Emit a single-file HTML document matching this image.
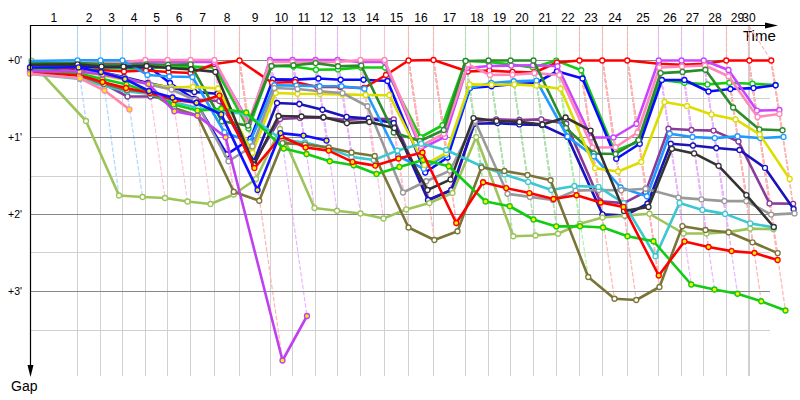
<!DOCTYPE html><html><head><meta charset="utf-8"><style>html,body{margin:0;padding:0;background:#fff;width:800px;height:400px;overflow:hidden}svg{display:block}text{font-family:"Liberation Sans",sans-serif}</style></head><body>
<svg width="800" height="400" viewBox="0 0 800 400">
<line x1="77.5" y1="26" x2="77.5" y2="376" stroke="#d0d0d0" stroke-width="1"/>
<line x1="100.5" y1="26" x2="100.5" y2="376" stroke="#d0d0d0" stroke-width="1"/>
<line x1="122.5" y1="26" x2="122.5" y2="376" stroke="#d0d0d0" stroke-width="1"/>
<line x1="145.5" y1="26" x2="145.5" y2="376" stroke="#d0d0d0" stroke-width="1"/>
<line x1="167.5" y1="26" x2="167.5" y2="376" stroke="#d0d0d0" stroke-width="1"/>
<line x1="190.5" y1="26" x2="190.5" y2="376" stroke="#d0d0d0" stroke-width="1"/>
<line x1="214.5" y1="26" x2="214.5" y2="376" stroke="#d0d0d0" stroke-width="1"/>
<line x1="239.5" y1="26" x2="239.5" y2="376" stroke="#d0d0d0" stroke-width="1"/>
<line x1="270.5" y1="26" x2="270.5" y2="376" stroke="#d0d0d0" stroke-width="1"/>
<line x1="292.5" y1="26" x2="292.5" y2="376" stroke="#d0d0d0" stroke-width="1"/>
<line x1="315.5" y1="26" x2="315.5" y2="376" stroke="#d0d0d0" stroke-width="1"/>
<line x1="337.5" y1="26" x2="337.5" y2="376" stroke="#d0d0d0" stroke-width="1"/>
<line x1="360.5" y1="26" x2="360.5" y2="376" stroke="#d0d0d0" stroke-width="1"/>
<line x1="384.5" y1="26" x2="384.5" y2="376" stroke="#d0d0d0" stroke-width="1"/>
<line x1="408.5" y1="26" x2="408.5" y2="376" stroke="#d0d0d0" stroke-width="1"/>
<line x1="433.5" y1="26" x2="433.5" y2="376" stroke="#d0d0d0" stroke-width="1"/>
<line x1="465.5" y1="26" x2="465.5" y2="376" stroke="#d0d0d0" stroke-width="1"/>
<line x1="488.5" y1="26" x2="488.5" y2="376" stroke="#d0d0d0" stroke-width="1"/>
<line x1="510.5" y1="26" x2="510.5" y2="376" stroke="#d0d0d0" stroke-width="1"/>
<line x1="533.5" y1="26" x2="533.5" y2="376" stroke="#d0d0d0" stroke-width="1"/>
<line x1="556.5" y1="26" x2="556.5" y2="376" stroke="#d0d0d0" stroke-width="1"/>
<line x1="579.5" y1="26" x2="579.5" y2="376" stroke="#d0d0d0" stroke-width="1"/>
<line x1="602.5" y1="26" x2="602.5" y2="376" stroke="#d0d0d0" stroke-width="1"/>
<line x1="627.5" y1="26" x2="627.5" y2="376" stroke="#d0d0d0" stroke-width="1"/>
<line x1="658.5" y1="26" x2="658.5" y2="376" stroke="#d0d0d0" stroke-width="1"/>
<line x1="681.5" y1="26" x2="681.5" y2="376" stroke="#d0d0d0" stroke-width="1"/>
<line x1="703.5" y1="26" x2="703.5" y2="376" stroke="#d0d0d0" stroke-width="1"/>
<line x1="726.5" y1="26" x2="726.5" y2="376" stroke="#d0d0d0" stroke-width="1"/>
<line x1="748.5" y1="26" x2="748.5" y2="376" stroke="#d0d0d0" stroke-width="1"/>
<line x1="749.5" y1="26" x2="749.5" y2="376" stroke="#d0d0d0" stroke-width="1"/>
<text x="53.8" y="22" font-size="12" text-anchor="middle" fill="#000">1</text>
<text x="89.0" y="22" font-size="12" text-anchor="middle" fill="#000">2</text>
<text x="111.5" y="22" font-size="12" text-anchor="middle" fill="#000">3</text>
<text x="134.0" y="22" font-size="12" text-anchor="middle" fill="#000">4</text>
<text x="156.5" y="22" font-size="12" text-anchor="middle" fill="#000">5</text>
<text x="179.0" y="22" font-size="12" text-anchor="middle" fill="#000">6</text>
<text x="202.5" y="22" font-size="12" text-anchor="middle" fill="#000">7</text>
<text x="227.0" y="22" font-size="12" text-anchor="middle" fill="#000">8</text>
<text x="255.0" y="22" font-size="12" text-anchor="middle" fill="#000">9</text>
<text x="281.5" y="22" font-size="12" text-anchor="middle" fill="#000">10</text>
<text x="304.0" y="22" font-size="12" text-anchor="middle" fill="#000">11</text>
<text x="326.5" y="22" font-size="12" text-anchor="middle" fill="#000">12</text>
<text x="349.0" y="22" font-size="12" text-anchor="middle" fill="#000">13</text>
<text x="372.5" y="22" font-size="12" text-anchor="middle" fill="#000">14</text>
<text x="396.5" y="22" font-size="12" text-anchor="middle" fill="#000">15</text>
<text x="421.0" y="22" font-size="12" text-anchor="middle" fill="#000">16</text>
<text x="449.5" y="22" font-size="12" text-anchor="middle" fill="#000">17</text>
<text x="477.0" y="22" font-size="12" text-anchor="middle" fill="#000">18</text>
<text x="499.5" y="22" font-size="12" text-anchor="middle" fill="#000">19</text>
<text x="522.0" y="22" font-size="12" text-anchor="middle" fill="#000">20</text>
<text x="545.0" y="22" font-size="12" text-anchor="middle" fill="#000">21</text>
<text x="568.0" y="22" font-size="12" text-anchor="middle" fill="#000">22</text>
<text x="591.0" y="22" font-size="12" text-anchor="middle" fill="#000">23</text>
<text x="615.0" y="22" font-size="12" text-anchor="middle" fill="#000">24</text>
<text x="643.0" y="22" font-size="12" text-anchor="middle" fill="#000">25</text>
<text x="670.0" y="22" font-size="12" text-anchor="middle" fill="#000">26</text>
<text x="692.5" y="22" font-size="12" text-anchor="middle" fill="#000">27</text>
<text x="715.0" y="22" font-size="12" text-anchor="middle" fill="#000">28</text>
<text x="737.5" y="22" font-size="12" text-anchor="middle" fill="#000">29</text>
<text x="749.0" y="22" font-size="12" text-anchor="middle" fill="#000">30</text>
<text x="22" y="63.5" font-size="10.5" text-anchor="end" fill="#000">+0'</text>
<text x="22" y="140.5" font-size="10.5" text-anchor="end" fill="#000">+1'</text>
<text x="22" y="217.5" font-size="10.5" text-anchor="end" fill="#000">+2'</text>
<text x="22" y="294.5" font-size="10.5" text-anchor="end" fill="#000">+3'</text>
<text x="743" y="41" font-size="15" fill="#000">Time</text>
<text x="11" y="391" font-size="14" fill="#000">Gap</text>
<line x1="77.5" y1="26" x2="77.5" y2="60" stroke="#acd8ff" stroke-width="1.2" stroke-dasharray="4,1.5"/>
<line x1="100.5" y1="26" x2="100.5" y2="60" stroke="#acd8ff" stroke-width="1.2" stroke-dasharray="4,1.5"/>
<line x1="122.5" y1="26" x2="122.5" y2="60" stroke="#acd8ff" stroke-width="1.2" stroke-dasharray="4,1.5"/>
<line x1="145.5" y1="26" x2="145.5" y2="60" stroke="#ffc0d8" stroke-width="1.2" stroke-dasharray="4,1.5"/>
<line x1="167.5" y1="26" x2="167.5" y2="60" stroke="#ffc0d8" stroke-width="1.2" stroke-dasharray="4,1.5"/>
<line x1="190.5" y1="26" x2="190.5" y2="60" stroke="#ffc0d8" stroke-width="1.2" stroke-dasharray="4,1.5"/>
<line x1="214.5" y1="26" x2="214.5" y2="60" stroke="#ffc0d8" stroke-width="1.2" stroke-dasharray="4,1.5"/>
<line x1="239.5" y1="26" x2="239.5" y2="60" stroke="#ffb4b4" stroke-width="1.2" stroke-dasharray="4,1.5"/>
<line x1="270.5" y1="26" x2="270.5" y2="60" stroke="#eab4ff" stroke-width="1.2" stroke-dasharray="4,1.5"/>
<line x1="292.5" y1="26" x2="292.5" y2="60" stroke="#eab4ff" stroke-width="1.2" stroke-dasharray="4,1.5"/>
<line x1="315.5" y1="26" x2="315.5" y2="60" stroke="#eab4ff" stroke-width="1.2" stroke-dasharray="4,1.5"/>
<line x1="337.5" y1="26" x2="337.5" y2="60" stroke="#eab4ff" stroke-width="1.2" stroke-dasharray="4,1.5"/>
<line x1="360.5" y1="26" x2="360.5" y2="60" stroke="#ffc0d8" stroke-width="1.2" stroke-dasharray="4,1.5"/>
<line x1="384.5" y1="26" x2="384.5" y2="60" stroke="#ffc0d8" stroke-width="1.2" stroke-dasharray="4,1.5"/>
<line x1="408.5" y1="26" x2="408.5" y2="60" stroke="#ffb4b4" stroke-width="1.2" stroke-dasharray="4,1.5"/>
<line x1="433.5" y1="26" x2="433.5" y2="60" stroke="#ffb4b4" stroke-width="1.2" stroke-dasharray="4,1.5"/>
<line x1="465.5" y1="26" x2="465.5" y2="60" stroke="#b2e2b2" stroke-width="1.2" stroke-dasharray="4,1.5"/>
<line x1="488.5" y1="26" x2="488.5" y2="60" stroke="#b2e2b2" stroke-width="1.2" stroke-dasharray="4,1.5"/>
<line x1="510.5" y1="26" x2="510.5" y2="60" stroke="#b2e2b2" stroke-width="1.2" stroke-dasharray="4,1.5"/>
<line x1="533.5" y1="26" x2="533.5" y2="60" stroke="#b2e2b2" stroke-width="1.2" stroke-dasharray="4,1.5"/>
<line x1="556.5" y1="26" x2="556.5" y2="60" stroke="#b0f0b0" stroke-width="1.2" stroke-dasharray="4,1.5"/>
<line x1="579.5" y1="26" x2="579.5" y2="60" stroke="#ffb4b4" stroke-width="1.2" stroke-dasharray="4,1.5"/>
<line x1="602.5" y1="26" x2="602.5" y2="60" stroke="#ffb4b4" stroke-width="1.2" stroke-dasharray="4,1.5"/>
<line x1="627.5" y1="26" x2="627.5" y2="60" stroke="#ffb4b4" stroke-width="1.2" stroke-dasharray="4,1.5"/>
<line x1="658.5" y1="26" x2="658.5" y2="60" stroke="#eab4ff" stroke-width="1.2" stroke-dasharray="4,1.5"/>
<line x1="681.5" y1="26" x2="681.5" y2="60" stroke="#eab4ff" stroke-width="1.2" stroke-dasharray="4,1.5"/>
<line x1="703.5" y1="26" x2="703.5" y2="60" stroke="#eab4ff" stroke-width="1.2" stroke-dasharray="4,1.5"/>
<line x1="726.5" y1="26" x2="726.5" y2="60" stroke="#ffb4b4" stroke-width="1.2" stroke-dasharray="4,1.5"/>
<line x1="748.5" y1="26" x2="748.5" y2="60" stroke="#ffb4b4" stroke-width="1.2" stroke-dasharray="4,1.5"/>
<line x1="749" y1="26" x2="771" y2="60" stroke="#ffb4b4" stroke-width="1.2" stroke-dasharray="4,2"/>
<line x1="77.5" y1="60" x2="86.00" y2="121.00" stroke="#acd8ff" stroke-width="1.2" stroke-dasharray="4.5,1.8"/>
<line x1="100.5" y1="60" x2="119.00" y2="195.50" stroke="#acd8ff" stroke-width="1.2" stroke-dasharray="4.5,1.8"/>
<line x1="122.5" y1="60" x2="142.50" y2="197.00" stroke="#acd8ff" stroke-width="1.2" stroke-dasharray="4.5,1.8"/>
<line x1="145.5" y1="60" x2="165.00" y2="198.00" stroke="#ffc0d8" stroke-width="1.2" stroke-dasharray="4.5,1.8"/>
<line x1="167.5" y1="60" x2="187.50" y2="201.50" stroke="#ffc0d8" stroke-width="1.2" stroke-dasharray="4.5,1.8"/>
<line x1="190.5" y1="60" x2="210.50" y2="204.00" stroke="#ffc0d8" stroke-width="1.2" stroke-dasharray="4.5,1.8"/>
<line x1="214.5" y1="60" x2="233.75" y2="194.50" stroke="#ffc0d8" stroke-width="1.2" stroke-dasharray="4.5,1.8"/>
<line x1="239.5" y1="60" x2="256.00" y2="179.00" stroke="#ffb4b4" stroke-width="1.2" stroke-dasharray="4.5,1.8"/>
<line x1="270.5" y1="60" x2="280.00" y2="129.00" stroke="#eab4ff" stroke-width="1.2" stroke-dasharray="4.5,1.8"/>
<line x1="292.5" y1="60" x2="314.50" y2="208.00" stroke="#eab4ff" stroke-width="1.2" stroke-dasharray="4.5,1.8"/>
<line x1="315.5" y1="60" x2="337.00" y2="210.75" stroke="#eab4ff" stroke-width="1.2" stroke-dasharray="4.5,1.8"/>
<line x1="337.5" y1="60" x2="360.50" y2="213.50" stroke="#eab4ff" stroke-width="1.2" stroke-dasharray="4.5,1.8"/>
<line x1="360.5" y1="60" x2="383.50" y2="218.50" stroke="#ffc0d8" stroke-width="1.2" stroke-dasharray="4.5,1.8"/>
<line x1="384.5" y1="60" x2="406.25" y2="209.40" stroke="#ffc0d8" stroke-width="1.2" stroke-dasharray="4.5,1.8"/>
<line x1="408.5" y1="60" x2="429.40" y2="203.00" stroke="#ffb4b4" stroke-width="1.2" stroke-dasharray="4.5,1.8"/>
<line x1="433.5" y1="60" x2="452.50" y2="193.00" stroke="#ffb4b4" stroke-width="1.2" stroke-dasharray="4.5,1.8"/>
<line x1="465.5" y1="60" x2="476.25" y2="137.00" stroke="#b2e2b2" stroke-width="1.2" stroke-dasharray="4.5,1.8"/>
<line x1="488.5" y1="60" x2="513.25" y2="236.25" stroke="#b2e2b2" stroke-width="1.2" stroke-dasharray="4.5,1.8"/>
<line x1="510.5" y1="60" x2="535.50" y2="235.50" stroke="#b2e2b2" stroke-width="1.2" stroke-dasharray="4.5,1.8"/>
<line x1="533.5" y1="60" x2="558.00" y2="233.75" stroke="#b2e2b2" stroke-width="1.2" stroke-dasharray="4.5,1.8"/>
<line x1="556.5" y1="60" x2="580.00" y2="223.75" stroke="#b0f0b0" stroke-width="1.2" stroke-dasharray="4.5,1.8"/>
<line x1="579.5" y1="60" x2="602.50" y2="217.50" stroke="#ffb4b4" stroke-width="1.2" stroke-dasharray="4.5,1.8"/>
<line x1="602.5" y1="60" x2="624.50" y2="215.60" stroke="#ffb4b4" stroke-width="1.2" stroke-dasharray="4.5,1.8"/>
<line x1="627.5" y1="60" x2="649.50" y2="213.75" stroke="#ffb4b4" stroke-width="1.2" stroke-dasharray="4.5,1.8"/>
<line x1="658.5" y1="60" x2="683.60" y2="233.50" stroke="#eab4ff" stroke-width="1.2" stroke-dasharray="4.5,1.8"/>
<line x1="681.5" y1="60" x2="706.40" y2="233.50" stroke="#eab4ff" stroke-width="1.2" stroke-dasharray="4.5,1.8"/>
<line x1="703.5" y1="60" x2="728.30" y2="232.10" stroke="#eab4ff" stroke-width="1.2" stroke-dasharray="4.5,1.8"/>
<line x1="726.5" y1="60" x2="750.20" y2="228.60" stroke="#ffb4b4" stroke-width="1.2" stroke-dasharray="4.5,1.8"/>
<line x1="748.5" y1="60" x2="773.50" y2="229.20" stroke="#ffb4b4" stroke-width="1.2" stroke-dasharray="4.5,1.8"/>
<line x1="77.5" y1="60" x2="80.00" y2="76.00" stroke="#acd8ff" stroke-width="1.2" stroke-dasharray="4.5,1.8"/>
<line x1="100.5" y1="60" x2="104.00" y2="84.00" stroke="#acd8ff" stroke-width="1.2" stroke-dasharray="4.5,1.8"/>
<line x1="122.5" y1="60" x2="127.00" y2="90.00" stroke="#acd8ff" stroke-width="1.2" stroke-dasharray="4.5,1.8"/>
<line x1="145.5" y1="60" x2="150.00" y2="92.00" stroke="#ffc0d8" stroke-width="1.2" stroke-dasharray="4.5,1.8"/>
<line x1="167.5" y1="60" x2="174.00" y2="108.00" stroke="#ffc0d8" stroke-width="1.2" stroke-dasharray="4.5,1.8"/>
<line x1="190.5" y1="60" x2="197.50" y2="115.60" stroke="#ffc0d8" stroke-width="1.2" stroke-dasharray="4.5,1.8"/>
<line x1="214.5" y1="60" x2="233.75" y2="191.75" stroke="#ffc0d8" stroke-width="1.2" stroke-dasharray="4.5,1.8"/>
<line x1="239.5" y1="60" x2="259.25" y2="200.75" stroke="#ffb4b4" stroke-width="1.2" stroke-dasharray="4.5,1.8"/>
<line x1="270.5" y1="60" x2="282.50" y2="143.10" stroke="#eab4ff" stroke-width="1.2" stroke-dasharray="4.5,1.8"/>
<line x1="292.5" y1="60" x2="305.00" y2="144.40" stroke="#eab4ff" stroke-width="1.2" stroke-dasharray="4.5,1.8"/>
<line x1="315.5" y1="60" x2="328.75" y2="147.50" stroke="#eab4ff" stroke-width="1.2" stroke-dasharray="4.5,1.8"/>
<line x1="337.5" y1="60" x2="351.50" y2="152.50" stroke="#eab4ff" stroke-width="1.2" stroke-dasharray="4.5,1.8"/>
<line x1="360.5" y1="60" x2="374.75" y2="156.00" stroke="#ffc0d8" stroke-width="1.2" stroke-dasharray="4.5,1.8"/>
<line x1="384.5" y1="60" x2="408.50" y2="227.50" stroke="#ffc0d8" stroke-width="1.2" stroke-dasharray="4.5,1.8"/>
<line x1="408.5" y1="60" x2="434.40" y2="240.00" stroke="#ffb4b4" stroke-width="1.2" stroke-dasharray="4.5,1.8"/>
<line x1="433.5" y1="60" x2="457.50" y2="231.25" stroke="#ffb4b4" stroke-width="1.2" stroke-dasharray="4.5,1.8"/>
<line x1="465.5" y1="60" x2="481.50" y2="167.50" stroke="#b2e2b2" stroke-width="1.2" stroke-dasharray="4.5,1.8"/>
<line x1="488.5" y1="60" x2="504.40" y2="171.00" stroke="#b2e2b2" stroke-width="1.2" stroke-dasharray="4.5,1.8"/>
<line x1="510.5" y1="60" x2="527.50" y2="175.00" stroke="#b2e2b2" stroke-width="1.2" stroke-dasharray="4.5,1.8"/>
<line x1="533.5" y1="60" x2="550.60" y2="180.25" stroke="#b2e2b2" stroke-width="1.2" stroke-dasharray="4.5,1.8"/>
<line x1="556.5" y1="60" x2="588.25" y2="277.00" stroke="#b0f0b0" stroke-width="1.2" stroke-dasharray="4.5,1.8"/>
<line x1="579.5" y1="60" x2="614.50" y2="298.75" stroke="#ffb4b4" stroke-width="1.2" stroke-dasharray="4.5,1.8"/>
<line x1="602.5" y1="60" x2="636.25" y2="300.00" stroke="#ffb4b4" stroke-width="1.2" stroke-dasharray="4.5,1.8"/>
<line x1="627.5" y1="60" x2="659.50" y2="287.00" stroke="#ffb4b4" stroke-width="1.2" stroke-dasharray="4.5,1.8"/>
<line x1="658.5" y1="60" x2="682.40" y2="226.20" stroke="#eab4ff" stroke-width="1.2" stroke-dasharray="4.5,1.8"/>
<line x1="681.5" y1="60" x2="705.50" y2="230.00" stroke="#eab4ff" stroke-width="1.2" stroke-dasharray="4.5,1.8"/>
<line x1="703.5" y1="60" x2="728.70" y2="232.30" stroke="#eab4ff" stroke-width="1.2" stroke-dasharray="4.5,1.8"/>
<line x1="726.5" y1="60" x2="752.50" y2="242.30" stroke="#ffb4b4" stroke-width="1.2" stroke-dasharray="4.5,1.8"/>
<line x1="748.5" y1="60" x2="777.70" y2="253.10" stroke="#ffb4b4" stroke-width="1.2" stroke-dasharray="4.5,1.8"/>
<line x1="77.5" y1="60" x2="78.00" y2="68.00" stroke="#acd8ff" stroke-width="1.2" stroke-dasharray="4.5,1.8"/>
<line x1="100.5" y1="60" x2="101.00" y2="72.00" stroke="#acd8ff" stroke-width="1.2" stroke-dasharray="4.5,1.8"/>
<line x1="122.5" y1="60" x2="125.00" y2="78.00" stroke="#acd8ff" stroke-width="1.2" stroke-dasharray="4.5,1.8"/>
<line x1="145.5" y1="60" x2="151.00" y2="85.00" stroke="#ffc0d8" stroke-width="1.2" stroke-dasharray="4.5,1.8"/>
<line x1="167.5" y1="60" x2="171.50" y2="89.50" stroke="#ffc0d8" stroke-width="1.2" stroke-dasharray="4.5,1.8"/>
<line x1="190.5" y1="60" x2="195.00" y2="100.00" stroke="#ffc0d8" stroke-width="1.2" stroke-dasharray="4.5,1.8"/>
<line x1="214.5" y1="60" x2="228.50" y2="161.25" stroke="#ffc0d8" stroke-width="1.2" stroke-dasharray="4.5,1.8"/>
<line x1="239.5" y1="60" x2="252.50" y2="146.25" stroke="#ffb4b4" stroke-width="1.2" stroke-dasharray="4.5,1.8"/>
<line x1="270.5" y1="60" x2="274.40" y2="88.00" stroke="#eab4ff" stroke-width="1.2" stroke-dasharray="4.5,1.8"/>
<line x1="292.5" y1="60" x2="297.50" y2="89.00" stroke="#eab4ff" stroke-width="1.2" stroke-dasharray="4.5,1.8"/>
<line x1="315.5" y1="60" x2="319.75" y2="91.25" stroke="#eab4ff" stroke-width="1.2" stroke-dasharray="4.5,1.8"/>
<line x1="337.5" y1="60" x2="342.50" y2="93.10" stroke="#eab4ff" stroke-width="1.2" stroke-dasharray="4.5,1.8"/>
<line x1="360.5" y1="60" x2="367.50" y2="106.25" stroke="#ffc0d8" stroke-width="1.2" stroke-dasharray="4.5,1.8"/>
<line x1="384.5" y1="60" x2="403.00" y2="192.50" stroke="#ffc0d8" stroke-width="1.2" stroke-dasharray="4.5,1.8"/>
<line x1="408.5" y1="60" x2="426.25" y2="181.25" stroke="#ffb4b4" stroke-width="1.2" stroke-dasharray="4.5,1.8"/>
<line x1="433.5" y1="60" x2="450.00" y2="170.60" stroke="#ffb4b4" stroke-width="1.2" stroke-dasharray="4.5,1.8"/>
<line x1="465.5" y1="60" x2="475.00" y2="121.00" stroke="#b2e2b2" stroke-width="1.2" stroke-dasharray="4.5,1.8"/>
<line x1="488.5" y1="60" x2="507.50" y2="193.75" stroke="#b2e2b2" stroke-width="1.2" stroke-dasharray="4.5,1.8"/>
<line x1="510.5" y1="60" x2="530.00" y2="196.90" stroke="#b2e2b2" stroke-width="1.2" stroke-dasharray="4.5,1.8"/>
<line x1="533.5" y1="60" x2="553.00" y2="200.00" stroke="#b2e2b2" stroke-width="1.2" stroke-dasharray="4.5,1.8"/>
<line x1="556.5" y1="60" x2="575.60" y2="190.60" stroke="#b0f0b0" stroke-width="1.2" stroke-dasharray="4.5,1.8"/>
<line x1="579.5" y1="60" x2="598.75" y2="190.00" stroke="#ffb4b4" stroke-width="1.2" stroke-dasharray="4.5,1.8"/>
<line x1="602.5" y1="60" x2="621.25" y2="190.25" stroke="#ffb4b4" stroke-width="1.2" stroke-dasharray="4.5,1.8"/>
<line x1="627.5" y1="60" x2="645.60" y2="188.75" stroke="#ffb4b4" stroke-width="1.2" stroke-dasharray="4.5,1.8"/>
<line x1="658.5" y1="60" x2="678.40" y2="197.60" stroke="#eab4ff" stroke-width="1.2" stroke-dasharray="4.5,1.8"/>
<line x1="681.5" y1="60" x2="701.50" y2="199.40" stroke="#eab4ff" stroke-width="1.2" stroke-dasharray="4.5,1.8"/>
<line x1="703.5" y1="60" x2="724.40" y2="201.10" stroke="#eab4ff" stroke-width="1.2" stroke-dasharray="4.5,1.8"/>
<line x1="726.5" y1="60" x2="746.30" y2="201.10" stroke="#ffb4b4" stroke-width="1.2" stroke-dasharray="4.5,1.8"/>
<line x1="748.5" y1="60" x2="771.20" y2="214.60" stroke="#ffb4b4" stroke-width="1.2" stroke-dasharray="4.5,1.8"/>
<line x1="771" y1="60" x2="794.50" y2="213.40" stroke="#ffb4b4" stroke-width="1.2" stroke-dasharray="4.5,1.8"/>
<line x1="77.5" y1="60" x2="80.00" y2="79.00" stroke="#acd8ff" stroke-width="1.2" stroke-dasharray="4.5,1.8"/>
<line x1="100.5" y1="60" x2="104.50" y2="86.00" stroke="#acd8ff" stroke-width="1.2" stroke-dasharray="4.5,1.8"/>
<line x1="122.5" y1="60" x2="127.00" y2="91.50" stroke="#acd8ff" stroke-width="1.2" stroke-dasharray="4.5,1.8"/>
<line x1="145.5" y1="60" x2="150.50" y2="94.00" stroke="#ffc0d8" stroke-width="1.2" stroke-dasharray="4.5,1.8"/>
<line x1="167.5" y1="60" x2="173.00" y2="102.00" stroke="#ffc0d8" stroke-width="1.2" stroke-dasharray="4.5,1.8"/>
<line x1="190.5" y1="60" x2="198.00" y2="108.00" stroke="#ffc0d8" stroke-width="1.2" stroke-dasharray="4.5,1.8"/>
<line x1="214.5" y1="60" x2="221.00" y2="112.00" stroke="#ffc0d8" stroke-width="1.2" stroke-dasharray="4.5,1.8"/>
<line x1="239.5" y1="60" x2="246.25" y2="113.75" stroke="#ffb4b4" stroke-width="1.2" stroke-dasharray="4.5,1.8"/>
<line x1="270.5" y1="60" x2="281.50" y2="139.50" stroke="#eab4ff" stroke-width="1.2" stroke-dasharray="4.5,1.8"/>
<line x1="292.5" y1="60" x2="305.00" y2="142.50" stroke="#eab4ff" stroke-width="1.2" stroke-dasharray="4.5,1.8"/>
<line x1="315.5" y1="60" x2="328.00" y2="148.00" stroke="#eab4ff" stroke-width="1.2" stroke-dasharray="4.5,1.8"/>
<line x1="337.5" y1="60" x2="351.50" y2="156.90" stroke="#eab4ff" stroke-width="1.2" stroke-dasharray="4.5,1.8"/>
<line x1="360.5" y1="60" x2="373.75" y2="160.00" stroke="#ffc0d8" stroke-width="1.2" stroke-dasharray="4.5,1.8"/>
<line x1="384.5" y1="60" x2="397.50" y2="150.60" stroke="#ffc0d8" stroke-width="1.2" stroke-dasharray="4.5,1.8"/>
<line x1="408.5" y1="60" x2="421.25" y2="143.75" stroke="#ffb4b4" stroke-width="1.2" stroke-dasharray="4.5,1.8"/>
<line x1="433.5" y1="60" x2="446.25" y2="150.00" stroke="#ffb4b4" stroke-width="1.2" stroke-dasharray="4.5,1.8"/>
<line x1="465.5" y1="60" x2="481.00" y2="166.00" stroke="#b2e2b2" stroke-width="1.2" stroke-dasharray="4.5,1.8"/>
<line x1="488.5" y1="60" x2="504.40" y2="174.40" stroke="#b2e2b2" stroke-width="1.2" stroke-dasharray="4.5,1.8"/>
<line x1="510.5" y1="60" x2="528.10" y2="181.90" stroke="#b2e2b2" stroke-width="1.2" stroke-dasharray="4.5,1.8"/>
<line x1="533.5" y1="60" x2="551.25" y2="190.00" stroke="#b2e2b2" stroke-width="1.2" stroke-dasharray="4.5,1.8"/>
<line x1="556.5" y1="60" x2="574.40" y2="186.00" stroke="#b0f0b0" stroke-width="1.2" stroke-dasharray="4.5,1.8"/>
<line x1="579.5" y1="60" x2="598.50" y2="186.90" stroke="#ffb4b4" stroke-width="1.2" stroke-dasharray="4.5,1.8"/>
<line x1="602.5" y1="60" x2="623.75" y2="203.10" stroke="#ffb4b4" stroke-width="1.2" stroke-dasharray="4.5,1.8"/>
<line x1="627.5" y1="60" x2="655.50" y2="256.25" stroke="#ffb4b4" stroke-width="1.2" stroke-dasharray="4.5,1.8"/>
<line x1="658.5" y1="60" x2="679.60" y2="202.90" stroke="#eab4ff" stroke-width="1.2" stroke-dasharray="4.5,1.8"/>
<line x1="681.5" y1="60" x2="702.40" y2="209.90" stroke="#eab4ff" stroke-width="1.2" stroke-dasharray="4.5,1.8"/>
<line x1="703.5" y1="60" x2="725.10" y2="213.90" stroke="#eab4ff" stroke-width="1.2" stroke-dasharray="4.5,1.8"/>
<line x1="726.5" y1="60" x2="750.20" y2="223.40" stroke="#ffb4b4" stroke-width="1.2" stroke-dasharray="4.5,1.8"/>
<line x1="748.5" y1="60" x2="773.80" y2="227.40" stroke="#ffb4b4" stroke-width="1.2" stroke-dasharray="4.5,1.8"/>
<line x1="77.5" y1="60" x2="79.00" y2="75.30" stroke="#acd8ff" stroke-width="1.2" stroke-dasharray="4.5,1.8"/>
<line x1="100.5" y1="60" x2="102.50" y2="82.00" stroke="#acd8ff" stroke-width="1.2" stroke-dasharray="4.5,1.8"/>
<line x1="122.5" y1="60" x2="126.00" y2="88.00" stroke="#acd8ff" stroke-width="1.2" stroke-dasharray="4.5,1.8"/>
<line x1="145.5" y1="60" x2="150.00" y2="93.00" stroke="#ffc0d8" stroke-width="1.2" stroke-dasharray="4.5,1.8"/>
<line x1="167.5" y1="60" x2="175.00" y2="100.00" stroke="#ffc0d8" stroke-width="1.2" stroke-dasharray="4.5,1.8"/>
<line x1="190.5" y1="60" x2="196.50" y2="102.75" stroke="#ffc0d8" stroke-width="1.2" stroke-dasharray="4.5,1.8"/>
<line x1="214.5" y1="60" x2="219.40" y2="95.60" stroke="#ffc0d8" stroke-width="1.2" stroke-dasharray="4.5,1.8"/>
<line x1="239.5" y1="60" x2="254.40" y2="168.10" stroke="#ffb4b4" stroke-width="1.2" stroke-dasharray="4.5,1.8"/>
<line x1="270.5" y1="60" x2="281.25" y2="136.25" stroke="#eab4ff" stroke-width="1.2" stroke-dasharray="4.5,1.8"/>
<line x1="292.5" y1="60" x2="305.60" y2="147.50" stroke="#eab4ff" stroke-width="1.2" stroke-dasharray="4.5,1.8"/>
<line x1="315.5" y1="60" x2="328.75" y2="150.60" stroke="#eab4ff" stroke-width="1.2" stroke-dasharray="4.5,1.8"/>
<line x1="337.5" y1="60" x2="352.50" y2="161.90" stroke="#eab4ff" stroke-width="1.2" stroke-dasharray="4.5,1.8"/>
<line x1="360.5" y1="60" x2="375.25" y2="165.60" stroke="#ffc0d8" stroke-width="1.2" stroke-dasharray="4.5,1.8"/>
<line x1="384.5" y1="60" x2="398.50" y2="158.50" stroke="#ffc0d8" stroke-width="1.2" stroke-dasharray="4.5,1.8"/>
<line x1="408.5" y1="60" x2="422.50" y2="152.50" stroke="#ffb4b4" stroke-width="1.2" stroke-dasharray="4.5,1.8"/>
<line x1="433.5" y1="60" x2="456.25" y2="223.00" stroke="#ffb4b4" stroke-width="1.2" stroke-dasharray="4.5,1.8"/>
<line x1="465.5" y1="60" x2="483.10" y2="182.25" stroke="#b2e2b2" stroke-width="1.2" stroke-dasharray="4.5,1.8"/>
<line x1="488.5" y1="60" x2="506.25" y2="188.10" stroke="#b2e2b2" stroke-width="1.2" stroke-dasharray="4.5,1.8"/>
<line x1="510.5" y1="60" x2="529.40" y2="193.10" stroke="#b2e2b2" stroke-width="1.2" stroke-dasharray="4.5,1.8"/>
<line x1="533.5" y1="60" x2="553.50" y2="199.00" stroke="#b2e2b2" stroke-width="1.2" stroke-dasharray="4.5,1.8"/>
<line x1="556.5" y1="60" x2="576.50" y2="195.25" stroke="#b0f0b0" stroke-width="1.2" stroke-dasharray="4.5,1.8"/>
<line x1="579.5" y1="60" x2="600.60" y2="202.50" stroke="#ffb4b4" stroke-width="1.2" stroke-dasharray="4.5,1.8"/>
<line x1="602.5" y1="60" x2="623.50" y2="206.90" stroke="#ffb4b4" stroke-width="1.2" stroke-dasharray="4.5,1.8"/>
<line x1="627.5" y1="60" x2="658.75" y2="275.50" stroke="#ffb4b4" stroke-width="1.2" stroke-dasharray="4.5,1.8"/>
<line x1="658.5" y1="60" x2="684.50" y2="241.40" stroke="#eab4ff" stroke-width="1.2" stroke-dasharray="4.5,1.8"/>
<line x1="681.5" y1="60" x2="708.50" y2="247.00" stroke="#eab4ff" stroke-width="1.2" stroke-dasharray="4.5,1.8"/>
<line x1="703.5" y1="60" x2="731.60" y2="251.10" stroke="#eab4ff" stroke-width="1.2" stroke-dasharray="4.5,1.8"/>
<line x1="726.5" y1="60" x2="754.50" y2="253.00" stroke="#ffb4b4" stroke-width="1.2" stroke-dasharray="4.5,1.8"/>
<line x1="748.5" y1="60" x2="777.60" y2="260.00" stroke="#ffb4b4" stroke-width="1.2" stroke-dasharray="4.5,1.8"/>
<line x1="77.5" y1="60" x2="79.00" y2="73.50" stroke="#acd8ff" stroke-width="1.2" stroke-dasharray="4.5,1.8"/>
<line x1="100.5" y1="60" x2="102.50" y2="79.00" stroke="#acd8ff" stroke-width="1.2" stroke-dasharray="4.5,1.8"/>
<line x1="122.5" y1="60" x2="126.50" y2="84.50" stroke="#acd8ff" stroke-width="1.2" stroke-dasharray="4.5,1.8"/>
<line x1="145.5" y1="60" x2="148.75" y2="92.00" stroke="#ffc0d8" stroke-width="1.2" stroke-dasharray="4.5,1.8"/>
<line x1="167.5" y1="60" x2="173.50" y2="104.40" stroke="#ffc0d8" stroke-width="1.2" stroke-dasharray="4.5,1.8"/>
<line x1="190.5" y1="60" x2="197.50" y2="110.60" stroke="#ffc0d8" stroke-width="1.2" stroke-dasharray="4.5,1.8"/>
<line x1="214.5" y1="60" x2="221.25" y2="108.75" stroke="#ffc0d8" stroke-width="1.2" stroke-dasharray="4.5,1.8"/>
<line x1="239.5" y1="60" x2="246.25" y2="112.50" stroke="#ffb4b4" stroke-width="1.2" stroke-dasharray="4.5,1.8"/>
<line x1="270.5" y1="60" x2="283.75" y2="148.50" stroke="#eab4ff" stroke-width="1.2" stroke-dasharray="4.5,1.8"/>
<line x1="292.5" y1="60" x2="306.50" y2="154.00" stroke="#eab4ff" stroke-width="1.2" stroke-dasharray="4.5,1.8"/>
<line x1="315.5" y1="60" x2="329.75" y2="161.25" stroke="#eab4ff" stroke-width="1.2" stroke-dasharray="4.5,1.8"/>
<line x1="337.5" y1="60" x2="353.75" y2="165.25" stroke="#eab4ff" stroke-width="1.2" stroke-dasharray="4.5,1.8"/>
<line x1="360.5" y1="60" x2="376.50" y2="174.00" stroke="#ffc0d8" stroke-width="1.2" stroke-dasharray="4.5,1.8"/>
<line x1="384.5" y1="60" x2="399.40" y2="166.90" stroke="#ffc0d8" stroke-width="1.2" stroke-dasharray="4.5,1.8"/>
<line x1="408.5" y1="60" x2="423.00" y2="160.00" stroke="#ffb4b4" stroke-width="1.2" stroke-dasharray="4.5,1.8"/>
<line x1="433.5" y1="60" x2="448.75" y2="166.25" stroke="#ffb4b4" stroke-width="1.2" stroke-dasharray="4.5,1.8"/>
<line x1="465.5" y1="60" x2="485.60" y2="201.50" stroke="#b2e2b2" stroke-width="1.2" stroke-dasharray="4.5,1.8"/>
<line x1="488.5" y1="60" x2="509.75" y2="206.25" stroke="#b2e2b2" stroke-width="1.2" stroke-dasharray="4.5,1.8"/>
<line x1="510.5" y1="60" x2="533.50" y2="219.50" stroke="#b2e2b2" stroke-width="1.2" stroke-dasharray="4.5,1.8"/>
<line x1="533.5" y1="60" x2="556.25" y2="226.40" stroke="#b2e2b2" stroke-width="1.2" stroke-dasharray="4.5,1.8"/>
<line x1="556.5" y1="60" x2="580.00" y2="226.25" stroke="#b0f0b0" stroke-width="1.2" stroke-dasharray="4.5,1.8"/>
<line x1="579.5" y1="60" x2="603.00" y2="227.50" stroke="#ffb4b4" stroke-width="1.2" stroke-dasharray="4.5,1.8"/>
<line x1="602.5" y1="60" x2="627.50" y2="236.25" stroke="#ffb4b4" stroke-width="1.2" stroke-dasharray="4.5,1.8"/>
<line x1="627.5" y1="60" x2="653.50" y2="241.25" stroke="#ffb4b4" stroke-width="1.2" stroke-dasharray="4.5,1.8"/>
<line x1="658.5" y1="60" x2="691.25" y2="284.50" stroke="#eab4ff" stroke-width="1.2" stroke-dasharray="4.5,1.8"/>
<line x1="681.5" y1="60" x2="714.50" y2="289.50" stroke="#eab4ff" stroke-width="1.2" stroke-dasharray="4.5,1.8"/>
<line x1="703.5" y1="60" x2="737.50" y2="293.75" stroke="#eab4ff" stroke-width="1.2" stroke-dasharray="4.5,1.8"/>
<line x1="726.5" y1="60" x2="761.25" y2="301.25" stroke="#ffb4b4" stroke-width="1.2" stroke-dasharray="4.5,1.8"/>
<line x1="748.5" y1="60" x2="785.50" y2="310.50" stroke="#ffb4b4" stroke-width="1.2" stroke-dasharray="4.5,1.8"/>
<line x1="77.5" y1="60" x2="79.50" y2="71.50" stroke="#acd8ff" stroke-width="1.2" stroke-dasharray="4.5,1.8"/>
<line x1="100.5" y1="60" x2="102.50" y2="74.50" stroke="#acd8ff" stroke-width="1.2" stroke-dasharray="4.5,1.8"/>
<line x1="122.5" y1="60" x2="125.50" y2="79.00" stroke="#acd8ff" stroke-width="1.2" stroke-dasharray="4.5,1.8"/>
<line x1="145.5" y1="60" x2="148.50" y2="84.00" stroke="#ffc0d8" stroke-width="1.2" stroke-dasharray="4.5,1.8"/>
<line x1="167.5" y1="60" x2="174.40" y2="111.25" stroke="#ffc0d8" stroke-width="1.2" stroke-dasharray="4.5,1.8"/>
<line x1="190.5" y1="60" x2="197.50" y2="115.60" stroke="#ffc0d8" stroke-width="1.2" stroke-dasharray="4.5,1.8"/>
<line x1="214.5" y1="60" x2="225.60" y2="137.25" stroke="#ffc0d8" stroke-width="1.2" stroke-dasharray="4.5,1.8"/>
<line x1="239.5" y1="60" x2="282.50" y2="360.50" stroke="#ffb4b4" stroke-width="1.2" stroke-dasharray="4.5,1.8"/>
<line x1="270.5" y1="60" x2="307.00" y2="316.00" stroke="#eab4ff" stroke-width="1.2" stroke-dasharray="4.5,1.8"/>
<line x1="77.5" y1="60" x2="78.50" y2="67.40" stroke="#acd8ff" stroke-width="1.2" stroke-dasharray="4.5,1.8"/>
<line x1="100.5" y1="60" x2="101.00" y2="72.00" stroke="#acd8ff" stroke-width="1.2" stroke-dasharray="4.5,1.8"/>
<line x1="122.5" y1="60" x2="125.00" y2="79.00" stroke="#acd8ff" stroke-width="1.2" stroke-dasharray="4.5,1.8"/>
<line x1="145.5" y1="60" x2="149.00" y2="91.00" stroke="#ffc0d8" stroke-width="1.2" stroke-dasharray="4.5,1.8"/>
<line x1="167.5" y1="60" x2="172.50" y2="97.50" stroke="#ffc0d8" stroke-width="1.2" stroke-dasharray="4.5,1.8"/>
<line x1="190.5" y1="60" x2="196.50" y2="102.75" stroke="#ffc0d8" stroke-width="1.2" stroke-dasharray="4.5,1.8"/>
<line x1="214.5" y1="60" x2="221.25" y2="114.40" stroke="#ffc0d8" stroke-width="1.2" stroke-dasharray="4.5,1.8"/>
<line x1="239.5" y1="60" x2="257.50" y2="190.00" stroke="#ffb4b4" stroke-width="1.2" stroke-dasharray="4.5,1.8"/>
<line x1="270.5" y1="60" x2="280.60" y2="133.10" stroke="#eab4ff" stroke-width="1.2" stroke-dasharray="4.5,1.8"/>
<line x1="292.5" y1="60" x2="303.50" y2="135.60" stroke="#eab4ff" stroke-width="1.2" stroke-dasharray="4.5,1.8"/>
<line x1="315.5" y1="60" x2="326.50" y2="140.60" stroke="#eab4ff" stroke-width="1.2" stroke-dasharray="4.5,1.8"/>
<line x1="77.5" y1="60" x2="80.00" y2="78.30" stroke="#acd8ff" stroke-width="1.2" stroke-dasharray="4.5,1.8"/>
<line x1="100.5" y1="60" x2="104.50" y2="90.50" stroke="#acd8ff" stroke-width="1.2" stroke-dasharray="4.5,1.8"/>
<line x1="122.5" y1="60" x2="129.40" y2="109.40" stroke="#acd8ff" stroke-width="1.2" stroke-dasharray="4.5,1.8"/>
<line x1="77.5" y1="60" x2="78.00" y2="72.00" stroke="#acd8ff" stroke-width="1.2" stroke-dasharray="4.5,1.8"/>
<line x1="100.5" y1="60" x2="104.00" y2="84.00" stroke="#acd8ff" stroke-width="1.2" stroke-dasharray="4.5,1.8"/>
<line x1="122.5" y1="60" x2="127.50" y2="96.50" stroke="#acd8ff" stroke-width="1.2" stroke-dasharray="4.5,1.8"/>
<line x1="145.5" y1="60" x2="150.50" y2="96.50" stroke="#ffc0d8" stroke-width="1.2" stroke-dasharray="4.5,1.8"/>
<line x1="167.5" y1="60" x2="175.00" y2="100.00" stroke="#ffc0d8" stroke-width="1.2" stroke-dasharray="4.5,1.8"/>
<line x1="190.5" y1="60" x2="196.25" y2="99.75" stroke="#ffc0d8" stroke-width="1.2" stroke-dasharray="4.5,1.8"/>
<line x1="214.5" y1="60" x2="219.40" y2="101.00" stroke="#ffc0d8" stroke-width="1.2" stroke-dasharray="4.5,1.8"/>
<line x1="239.5" y1="60" x2="254.00" y2="162.00" stroke="#ffb4b4" stroke-width="1.2" stroke-dasharray="4.5,1.8"/>
<line x1="270.5" y1="60" x2="280.00" y2="119.00" stroke="#eab4ff" stroke-width="1.2" stroke-dasharray="4.5,1.8"/>
<line x1="292.5" y1="60" x2="300.00" y2="118.00" stroke="#eab4ff" stroke-width="1.2" stroke-dasharray="4.5,1.8"/>
<line x1="315.5" y1="60" x2="323.00" y2="117.50" stroke="#eab4ff" stroke-width="1.2" stroke-dasharray="4.5,1.8"/>
<line x1="337.5" y1="60" x2="346.00" y2="120.00" stroke="#eab4ff" stroke-width="1.2" stroke-dasharray="4.5,1.8"/>
<line x1="360.5" y1="60" x2="369.00" y2="118.50" stroke="#ffc0d8" stroke-width="1.2" stroke-dasharray="4.5,1.8"/>
<line x1="384.5" y1="60" x2="393.75" y2="119.40" stroke="#ffc0d8" stroke-width="1.2" stroke-dasharray="4.5,1.8"/>
<line x1="408.5" y1="60" x2="429.00" y2="200.00" stroke="#ffb4b4" stroke-width="1.2" stroke-dasharray="4.5,1.8"/>
<line x1="433.5" y1="60" x2="452.00" y2="190.00" stroke="#ffb4b4" stroke-width="1.2" stroke-dasharray="4.5,1.8"/>
<line x1="465.5" y1="60" x2="475.00" y2="121.00" stroke="#b2e2b2" stroke-width="1.2" stroke-dasharray="4.5,1.8"/>
<line x1="488.5" y1="60" x2="496.25" y2="119.40" stroke="#b2e2b2" stroke-width="1.2" stroke-dasharray="4.5,1.8"/>
<line x1="510.5" y1="60" x2="519.40" y2="120.00" stroke="#b2e2b2" stroke-width="1.2" stroke-dasharray="4.5,1.8"/>
<line x1="533.5" y1="60" x2="541.25" y2="119.40" stroke="#b2e2b2" stroke-width="1.2" stroke-dasharray="4.5,1.8"/>
<line x1="556.5" y1="60" x2="566.25" y2="123.75" stroke="#b0f0b0" stroke-width="1.2" stroke-dasharray="4.5,1.8"/>
<line x1="579.5" y1="60" x2="600.00" y2="201.25" stroke="#ffb4b4" stroke-width="1.2" stroke-dasharray="4.5,1.8"/>
<line x1="602.5" y1="60" x2="623.75" y2="203.10" stroke="#ffb4b4" stroke-width="1.2" stroke-dasharray="4.5,1.8"/>
<line x1="627.5" y1="60" x2="645.60" y2="191.90" stroke="#ffb4b4" stroke-width="1.2" stroke-dasharray="4.5,1.8"/>
<line x1="658.5" y1="60" x2="668.50" y2="128.75" stroke="#eab4ff" stroke-width="1.2" stroke-dasharray="4.5,1.8"/>
<line x1="681.5" y1="60" x2="691.50" y2="130.00" stroke="#eab4ff" stroke-width="1.2" stroke-dasharray="4.5,1.8"/>
<line x1="703.5" y1="60" x2="713.50" y2="130.60" stroke="#eab4ff" stroke-width="1.2" stroke-dasharray="4.5,1.8"/>
<line x1="726.5" y1="60" x2="738.50" y2="141.50" stroke="#ffb4b4" stroke-width="1.2" stroke-dasharray="4.5,1.8"/>
<line x1="748.5" y1="60" x2="769.50" y2="203.40" stroke="#ffb4b4" stroke-width="1.2" stroke-dasharray="4.5,1.8"/>
<line x1="771" y1="60" x2="793.10" y2="203.80" stroke="#ffb4b4" stroke-width="1.2" stroke-dasharray="4.5,1.8"/>
<line x1="77.5" y1="60" x2="78.00" y2="68.00" stroke="#acd8ff" stroke-width="1.2" stroke-dasharray="4.5,1.8"/>
<line x1="100.5" y1="60" x2="101.00" y2="72.00" stroke="#acd8ff" stroke-width="1.2" stroke-dasharray="4.5,1.8"/>
<line x1="122.5" y1="60" x2="124.00" y2="77.00" stroke="#acd8ff" stroke-width="1.2" stroke-dasharray="4.5,1.8"/>
<line x1="145.5" y1="60" x2="148.00" y2="83.00" stroke="#ffc0d8" stroke-width="1.2" stroke-dasharray="4.5,1.8"/>
<line x1="167.5" y1="60" x2="172.00" y2="88.00" stroke="#ffc0d8" stroke-width="1.2" stroke-dasharray="4.5,1.8"/>
<line x1="190.5" y1="60" x2="194.40" y2="91.90" stroke="#ffc0d8" stroke-width="1.2" stroke-dasharray="4.5,1.8"/>
<line x1="214.5" y1="60" x2="217.50" y2="93.75" stroke="#ffc0d8" stroke-width="1.2" stroke-dasharray="4.5,1.8"/>
<line x1="239.5" y1="60" x2="253.75" y2="161.90" stroke="#ffb4b4" stroke-width="1.2" stroke-dasharray="4.5,1.8"/>
<line x1="270.5" y1="60" x2="277.00" y2="103.00" stroke="#eab4ff" stroke-width="1.2" stroke-dasharray="4.5,1.8"/>
<line x1="292.5" y1="60" x2="299.40" y2="104.00" stroke="#eab4ff" stroke-width="1.2" stroke-dasharray="4.5,1.8"/>
<line x1="315.5" y1="60" x2="322.50" y2="109.75" stroke="#eab4ff" stroke-width="1.2" stroke-dasharray="4.5,1.8"/>
<line x1="337.5" y1="60" x2="346.60" y2="116.90" stroke="#eab4ff" stroke-width="1.2" stroke-dasharray="4.5,1.8"/>
<line x1="360.5" y1="60" x2="368.50" y2="118.50" stroke="#ffc0d8" stroke-width="1.2" stroke-dasharray="4.5,1.8"/>
<line x1="384.5" y1="60" x2="393.75" y2="123.00" stroke="#ffc0d8" stroke-width="1.2" stroke-dasharray="4.5,1.8"/>
<line x1="408.5" y1="60" x2="428.00" y2="200.00" stroke="#ffb4b4" stroke-width="1.2" stroke-dasharray="4.5,1.8"/>
<line x1="433.5" y1="60" x2="451.25" y2="190.00" stroke="#ffb4b4" stroke-width="1.2" stroke-dasharray="4.5,1.8"/>
<line x1="465.5" y1="60" x2="474.40" y2="123.75" stroke="#b2e2b2" stroke-width="1.2" stroke-dasharray="4.5,1.8"/>
<line x1="488.5" y1="60" x2="497.50" y2="123.10" stroke="#b2e2b2" stroke-width="1.2" stroke-dasharray="4.5,1.8"/>
<line x1="510.5" y1="60" x2="519.40" y2="124.40" stroke="#b2e2b2" stroke-width="1.2" stroke-dasharray="4.5,1.8"/>
<line x1="533.5" y1="60" x2="541.90" y2="125.00" stroke="#b2e2b2" stroke-width="1.2" stroke-dasharray="4.5,1.8"/>
<line x1="556.5" y1="60" x2="567.50" y2="136.90" stroke="#b0f0b0" stroke-width="1.2" stroke-dasharray="4.5,1.8"/>
<line x1="579.5" y1="60" x2="602.50" y2="214.40" stroke="#ffb4b4" stroke-width="1.2" stroke-dasharray="4.5,1.8"/>
<line x1="602.5" y1="60" x2="625.00" y2="215.60" stroke="#ffb4b4" stroke-width="1.2" stroke-dasharray="4.5,1.8"/>
<line x1="627.5" y1="60" x2="647.50" y2="203.75" stroke="#ffb4b4" stroke-width="1.2" stroke-dasharray="4.5,1.8"/>
<line x1="658.5" y1="60" x2="670.75" y2="143.75" stroke="#eab4ff" stroke-width="1.2" stroke-dasharray="4.5,1.8"/>
<line x1="681.5" y1="60" x2="693.00" y2="145.50" stroke="#eab4ff" stroke-width="1.2" stroke-dasharray="4.5,1.8"/>
<line x1="703.5" y1="60" x2="716.25" y2="148.00" stroke="#eab4ff" stroke-width="1.2" stroke-dasharray="4.5,1.8"/>
<line x1="726.5" y1="60" x2="739.50" y2="150.00" stroke="#ffb4b4" stroke-width="1.2" stroke-dasharray="4.5,1.8"/>
<line x1="748.5" y1="60" x2="765.00" y2="167.90" stroke="#ffb4b4" stroke-width="1.2" stroke-dasharray="4.5,1.8"/>
<line x1="771" y1="60" x2="793.60" y2="209.00" stroke="#ffb4b4" stroke-width="1.2" stroke-dasharray="4.5,1.8"/>
<line x1="77.5" y1="60" x2="77.50" y2="64.40" stroke="#acd8ff" stroke-width="1.2" stroke-dasharray="4.5,1.8"/>
<line x1="100.5" y1="60" x2="101.50" y2="66.50" stroke="#acd8ff" stroke-width="1.2" stroke-dasharray="4.5,1.8"/>
<line x1="122.5" y1="60" x2="123.50" y2="66.50" stroke="#acd8ff" stroke-width="1.2" stroke-dasharray="4.5,1.8"/>
<line x1="145.5" y1="60" x2="146.50" y2="66.00" stroke="#ffc0d8" stroke-width="1.2" stroke-dasharray="4.5,1.8"/>
<line x1="167.5" y1="60" x2="168.50" y2="68.00" stroke="#ffc0d8" stroke-width="1.2" stroke-dasharray="4.5,1.8"/>
<line x1="190.5" y1="60" x2="191.25" y2="69.40" stroke="#ffc0d8" stroke-width="1.2" stroke-dasharray="4.5,1.8"/>
<line x1="214.5" y1="60" x2="215.40" y2="71.90" stroke="#ffc0d8" stroke-width="1.2" stroke-dasharray="4.5,1.8"/>
<line x1="239.5" y1="60" x2="254.00" y2="165.00" stroke="#ffb4b4" stroke-width="1.2" stroke-dasharray="4.5,1.8"/>
<line x1="270.5" y1="60" x2="278.50" y2="116.00" stroke="#eab4ff" stroke-width="1.2" stroke-dasharray="4.5,1.8"/>
<line x1="292.5" y1="60" x2="301.50" y2="116.50" stroke="#eab4ff" stroke-width="1.2" stroke-dasharray="4.5,1.8"/>
<line x1="315.5" y1="60" x2="323.50" y2="117.25" stroke="#eab4ff" stroke-width="1.2" stroke-dasharray="4.5,1.8"/>
<line x1="337.5" y1="60" x2="346.90" y2="123.10" stroke="#eab4ff" stroke-width="1.2" stroke-dasharray="4.5,1.8"/>
<line x1="360.5" y1="60" x2="369.40" y2="121.90" stroke="#ffc0d8" stroke-width="1.2" stroke-dasharray="4.5,1.8"/>
<line x1="384.5" y1="60" x2="394.40" y2="128.00" stroke="#ffc0d8" stroke-width="1.2" stroke-dasharray="4.5,1.8"/>
<line x1="408.5" y1="60" x2="427.50" y2="190.00" stroke="#ffb4b4" stroke-width="1.2" stroke-dasharray="4.5,1.8"/>
<line x1="433.5" y1="60" x2="450.60" y2="179.40" stroke="#ffb4b4" stroke-width="1.2" stroke-dasharray="4.5,1.8"/>
<line x1="465.5" y1="60" x2="473.50" y2="118.10" stroke="#b2e2b2" stroke-width="1.2" stroke-dasharray="4.5,1.8"/>
<line x1="488.5" y1="60" x2="496.50" y2="121.00" stroke="#b2e2b2" stroke-width="1.2" stroke-dasharray="4.5,1.8"/>
<line x1="510.5" y1="60" x2="519.40" y2="121.90" stroke="#b2e2b2" stroke-width="1.2" stroke-dasharray="4.5,1.8"/>
<line x1="533.5" y1="60" x2="542.50" y2="124.50" stroke="#b2e2b2" stroke-width="1.2" stroke-dasharray="4.5,1.8"/>
<line x1="556.5" y1="60" x2="565.60" y2="117.50" stroke="#b0f0b0" stroke-width="1.2" stroke-dasharray="4.5,1.8"/>
<line x1="579.5" y1="60" x2="590.60" y2="130.60" stroke="#ffb4b4" stroke-width="1.2" stroke-dasharray="4.5,1.8"/>
<line x1="602.5" y1="60" x2="624.00" y2="211.00" stroke="#ffb4b4" stroke-width="1.2" stroke-dasharray="4.5,1.8"/>
<line x1="627.5" y1="60" x2="648.50" y2="206.90" stroke="#ffb4b4" stroke-width="1.2" stroke-dasharray="4.5,1.8"/>
<line x1="658.5" y1="60" x2="671.90" y2="148.75" stroke="#eab4ff" stroke-width="1.2" stroke-dasharray="4.5,1.8"/>
<line x1="681.5" y1="60" x2="694.10" y2="153.40" stroke="#eab4ff" stroke-width="1.2" stroke-dasharray="4.5,1.8"/>
<line x1="703.5" y1="60" x2="718.60" y2="165.80" stroke="#eab4ff" stroke-width="1.2" stroke-dasharray="4.5,1.8"/>
<line x1="726.5" y1="60" x2="746.40" y2="195.10" stroke="#ffb4b4" stroke-width="1.2" stroke-dasharray="4.5,1.8"/>
<line x1="748.5" y1="60" x2="773.80" y2="227.00" stroke="#ffb4b4" stroke-width="1.2" stroke-dasharray="4.5,1.8"/>
<line x1="77.5" y1="60" x2="79.50" y2="71.50" stroke="#acd8ff" stroke-width="1.2" stroke-dasharray="4.5,1.8"/>
<line x1="100.5" y1="60" x2="101.00" y2="75.00" stroke="#acd8ff" stroke-width="1.2" stroke-dasharray="4.5,1.8"/>
<line x1="122.5" y1="60" x2="125.00" y2="80.00" stroke="#acd8ff" stroke-width="1.2" stroke-dasharray="4.5,1.8"/>
<line x1="145.5" y1="60" x2="149.00" y2="84.00" stroke="#ffc0d8" stroke-width="1.2" stroke-dasharray="4.5,1.8"/>
<line x1="167.5" y1="60" x2="171.25" y2="87.50" stroke="#ffc0d8" stroke-width="1.2" stroke-dasharray="4.5,1.8"/>
<line x1="190.5" y1="60" x2="193.10" y2="86.90" stroke="#ffc0d8" stroke-width="1.2" stroke-dasharray="4.5,1.8"/>
<line x1="214.5" y1="60" x2="218.10" y2="88.50" stroke="#ffc0d8" stroke-width="1.2" stroke-dasharray="4.5,1.8"/>
<line x1="239.5" y1="60" x2="252.50" y2="152.75" stroke="#ffb4b4" stroke-width="1.2" stroke-dasharray="4.5,1.8"/>
<line x1="270.5" y1="60" x2="275.60" y2="93.00" stroke="#eab4ff" stroke-width="1.2" stroke-dasharray="4.5,1.8"/>
<line x1="292.5" y1="60" x2="297.50" y2="93.75" stroke="#eab4ff" stroke-width="1.2" stroke-dasharray="4.5,1.8"/>
<line x1="315.5" y1="60" x2="320.00" y2="94.00" stroke="#eab4ff" stroke-width="1.2" stroke-dasharray="4.5,1.8"/>
<line x1="337.5" y1="60" x2="342.50" y2="94.40" stroke="#eab4ff" stroke-width="1.2" stroke-dasharray="4.5,1.8"/>
<line x1="360.5" y1="60" x2="365.60" y2="95.00" stroke="#ffc0d8" stroke-width="1.2" stroke-dasharray="4.5,1.8"/>
<line x1="384.5" y1="60" x2="389.40" y2="95.25" stroke="#ffc0d8" stroke-width="1.2" stroke-dasharray="4.5,1.8"/>
<line x1="408.5" y1="60" x2="424.40" y2="165.00" stroke="#ffb4b4" stroke-width="1.2" stroke-dasharray="4.5,1.8"/>
<line x1="433.5" y1="60" x2="446.25" y2="153.00" stroke="#ffb4b4" stroke-width="1.2" stroke-dasharray="4.5,1.8"/>
<line x1="465.5" y1="60" x2="469.60" y2="84.40" stroke="#b2e2b2" stroke-width="1.2" stroke-dasharray="4.5,1.8"/>
<line x1="488.5" y1="60" x2="491.50" y2="84.75" stroke="#b2e2b2" stroke-width="1.2" stroke-dasharray="4.5,1.8"/>
<line x1="510.5" y1="60" x2="514.40" y2="84.40" stroke="#b2e2b2" stroke-width="1.2" stroke-dasharray="4.5,1.8"/>
<line x1="533.5" y1="60" x2="536.25" y2="85.60" stroke="#b2e2b2" stroke-width="1.2" stroke-dasharray="4.5,1.8"/>
<line x1="556.5" y1="60" x2="560.60" y2="88.75" stroke="#b0f0b0" stroke-width="1.2" stroke-dasharray="4.5,1.8"/>
<line x1="579.5" y1="60" x2="595.00" y2="168.10" stroke="#ffb4b4" stroke-width="1.2" stroke-dasharray="4.5,1.8"/>
<line x1="602.5" y1="60" x2="618.10" y2="171.50" stroke="#ffb4b4" stroke-width="1.2" stroke-dasharray="4.5,1.8"/>
<line x1="627.5" y1="60" x2="641.25" y2="162.00" stroke="#ffb4b4" stroke-width="1.2" stroke-dasharray="4.5,1.8"/>
<line x1="658.5" y1="60" x2="664.50" y2="102.00" stroke="#eab4ff" stroke-width="1.2" stroke-dasharray="4.5,1.8"/>
<line x1="681.5" y1="60" x2="687.00" y2="106.00" stroke="#eab4ff" stroke-width="1.2" stroke-dasharray="4.5,1.8"/>
<line x1="703.5" y1="60" x2="711.50" y2="114.40" stroke="#eab4ff" stroke-width="1.2" stroke-dasharray="4.5,1.8"/>
<line x1="726.5" y1="60" x2="735.60" y2="119.40" stroke="#ffb4b4" stroke-width="1.2" stroke-dasharray="4.5,1.8"/>
<line x1="748.5" y1="60" x2="759.75" y2="134.40" stroke="#ffb4b4" stroke-width="1.2" stroke-dasharray="4.5,1.8"/>
<line x1="771" y1="60" x2="789.70" y2="178.90" stroke="#ffb4b4" stroke-width="1.2" stroke-dasharray="4.5,1.8"/>
<line x1="77.5" y1="60" x2="78.00" y2="66.50" stroke="#acd8ff" stroke-width="1.2" stroke-dasharray="4.5,1.8"/>
<line x1="100.5" y1="60" x2="101.00" y2="67.00" stroke="#acd8ff" stroke-width="1.2" stroke-dasharray="4.5,1.8"/>
<line x1="122.5" y1="60" x2="124.00" y2="67.00" stroke="#acd8ff" stroke-width="1.2" stroke-dasharray="4.5,1.8"/>
<line x1="145.5" y1="60" x2="149.50" y2="67.50" stroke="#ffc0d8" stroke-width="1.2" stroke-dasharray="4.5,1.8"/>
<line x1="167.5" y1="60" x2="170.00" y2="83.00" stroke="#ffc0d8" stroke-width="1.2" stroke-dasharray="4.5,1.8"/>
<line x1="190.5" y1="60" x2="194.00" y2="99.00" stroke="#ffc0d8" stroke-width="1.2" stroke-dasharray="4.5,1.8"/>
<line x1="214.5" y1="60" x2="226.90" y2="154.40" stroke="#ffc0d8" stroke-width="1.2" stroke-dasharray="4.5,1.8"/>
<line x1="239.5" y1="60" x2="250.60" y2="138.75" stroke="#ffb4b4" stroke-width="1.2" stroke-dasharray="4.5,1.8"/>
<line x1="270.5" y1="60" x2="273.00" y2="79.40" stroke="#eab4ff" stroke-width="1.2" stroke-dasharray="4.5,1.8"/>
<line x1="292.5" y1="60" x2="295.60" y2="79.60" stroke="#eab4ff" stroke-width="1.2" stroke-dasharray="4.5,1.8"/>
<line x1="315.5" y1="60" x2="318.40" y2="78.50" stroke="#eab4ff" stroke-width="1.2" stroke-dasharray="4.5,1.8"/>
<line x1="337.5" y1="60" x2="340.60" y2="79.75" stroke="#eab4ff" stroke-width="1.2" stroke-dasharray="4.5,1.8"/>
<line x1="360.5" y1="60" x2="363.50" y2="79.75" stroke="#ffc0d8" stroke-width="1.2" stroke-dasharray="4.5,1.8"/>
<line x1="384.5" y1="60" x2="387.50" y2="81.00" stroke="#ffc0d8" stroke-width="1.2" stroke-dasharray="4.5,1.8"/>
<line x1="408.5" y1="60" x2="425.25" y2="172.50" stroke="#ffb4b4" stroke-width="1.2" stroke-dasharray="4.5,1.8"/>
<line x1="433.5" y1="60" x2="447.50" y2="157.50" stroke="#ffb4b4" stroke-width="1.2" stroke-dasharray="4.5,1.8"/>
<line x1="465.5" y1="60" x2="470.00" y2="88.00" stroke="#b2e2b2" stroke-width="1.2" stroke-dasharray="4.5,1.8"/>
<line x1="488.5" y1="60" x2="491.50" y2="86.25" stroke="#b2e2b2" stroke-width="1.2" stroke-dasharray="4.5,1.8"/>
<line x1="510.5" y1="60" x2="514.00" y2="84.00" stroke="#b2e2b2" stroke-width="1.2" stroke-dasharray="4.5,1.8"/>
<line x1="533.5" y1="60" x2="536.00" y2="83.00" stroke="#b2e2b2" stroke-width="1.2" stroke-dasharray="4.5,1.8"/>
<line x1="556.5" y1="60" x2="557.00" y2="71.25" stroke="#b0f0b0" stroke-width="1.2" stroke-dasharray="4.5,1.8"/>
<line x1="579.5" y1="60" x2="582.50" y2="78.50" stroke="#ffb4b4" stroke-width="1.2" stroke-dasharray="4.5,1.8"/>
<line x1="602.5" y1="60" x2="616.25" y2="158.75" stroke="#ffb4b4" stroke-width="1.2" stroke-dasharray="4.5,1.8"/>
<line x1="627.5" y1="60" x2="639.75" y2="143.75" stroke="#ffb4b4" stroke-width="1.2" stroke-dasharray="4.5,1.8"/>
<line x1="658.5" y1="60" x2="661.90" y2="80.00" stroke="#eab4ff" stroke-width="1.2" stroke-dasharray="4.5,1.8"/>
<line x1="681.5" y1="60" x2="684.40" y2="80.00" stroke="#eab4ff" stroke-width="1.2" stroke-dasharray="4.5,1.8"/>
<line x1="703.5" y1="60" x2="708.50" y2="91.50" stroke="#eab4ff" stroke-width="1.2" stroke-dasharray="4.5,1.8"/>
<line x1="726.5" y1="60" x2="730.40" y2="89.00" stroke="#ffb4b4" stroke-width="1.2" stroke-dasharray="4.5,1.8"/>
<line x1="748.5" y1="60" x2="753.50" y2="88.10" stroke="#ffb4b4" stroke-width="1.2" stroke-dasharray="4.5,1.8"/>
<line x1="771" y1="60" x2="775.60" y2="85.25" stroke="#ffb4b4" stroke-width="1.2" stroke-dasharray="4.5,1.8"/>
<line x1="145.5" y1="60" x2="147.50" y2="75.00" stroke="#ffc0d8" stroke-width="1.2" stroke-dasharray="4.5,1.8"/>
<line x1="167.5" y1="60" x2="169.50" y2="76.50" stroke="#ffc0d8" stroke-width="1.2" stroke-dasharray="4.5,1.8"/>
<line x1="190.5" y1="60" x2="192.50" y2="77.00" stroke="#ffc0d8" stroke-width="1.2" stroke-dasharray="4.5,1.8"/>
<line x1="214.5" y1="60" x2="224.40" y2="132.25" stroke="#ffc0d8" stroke-width="1.2" stroke-dasharray="4.5,1.8"/>
<line x1="239.5" y1="60" x2="250.00" y2="142.00" stroke="#ffb4b4" stroke-width="1.2" stroke-dasharray="4.5,1.8"/>
<line x1="270.5" y1="60" x2="274.40" y2="85.25" stroke="#eab4ff" stroke-width="1.2" stroke-dasharray="4.5,1.8"/>
<line x1="292.5" y1="60" x2="296.50" y2="85.60" stroke="#eab4ff" stroke-width="1.2" stroke-dasharray="4.5,1.8"/>
<line x1="315.5" y1="60" x2="319.60" y2="86.25" stroke="#eab4ff" stroke-width="1.2" stroke-dasharray="4.5,1.8"/>
<line x1="337.5" y1="60" x2="341.50" y2="86.25" stroke="#eab4ff" stroke-width="1.2" stroke-dasharray="4.5,1.8"/>
<line x1="360.5" y1="60" x2="364.40" y2="88.75" stroke="#ffc0d8" stroke-width="1.2" stroke-dasharray="4.5,1.8"/>
<line x1="384.5" y1="60" x2="398.00" y2="156.00" stroke="#ffc0d8" stroke-width="1.2" stroke-dasharray="4.5,1.8"/>
<line x1="408.5" y1="60" x2="423.75" y2="168.75" stroke="#ffb4b4" stroke-width="1.2" stroke-dasharray="4.5,1.8"/>
<line x1="433.5" y1="60" x2="446.00" y2="155.00" stroke="#ffb4b4" stroke-width="1.2" stroke-dasharray="4.5,1.8"/>
<line x1="465.5" y1="60" x2="469.40" y2="88.00" stroke="#b2e2b2" stroke-width="1.2" stroke-dasharray="4.5,1.8"/>
<line x1="488.5" y1="60" x2="491.25" y2="83.00" stroke="#b2e2b2" stroke-width="1.2" stroke-dasharray="4.5,1.8"/>
<line x1="510.5" y1="60" x2="513.75" y2="81.25" stroke="#b2e2b2" stroke-width="1.2" stroke-dasharray="4.5,1.8"/>
<line x1="533.5" y1="60" x2="536.50" y2="80.60" stroke="#b2e2b2" stroke-width="1.2" stroke-dasharray="4.5,1.8"/>
<line x1="556.5" y1="60" x2="567.50" y2="136.50" stroke="#b0f0b0" stroke-width="1.2" stroke-dasharray="4.5,1.8"/>
<line x1="579.5" y1="60" x2="593.75" y2="156.25" stroke="#ffb4b4" stroke-width="1.2" stroke-dasharray="4.5,1.8"/>
<line x1="602.5" y1="60" x2="620.60" y2="187.50" stroke="#ffb4b4" stroke-width="1.2" stroke-dasharray="4.5,1.8"/>
<line x1="627.5" y1="60" x2="646.90" y2="196.25" stroke="#ffb4b4" stroke-width="1.2" stroke-dasharray="4.5,1.8"/>
<line x1="658.5" y1="60" x2="669.75" y2="133.75" stroke="#eab4ff" stroke-width="1.2" stroke-dasharray="4.5,1.8"/>
<line x1="681.5" y1="60" x2="692.50" y2="137.00" stroke="#eab4ff" stroke-width="1.2" stroke-dasharray="4.5,1.8"/>
<line x1="703.5" y1="60" x2="714.75" y2="138.10" stroke="#eab4ff" stroke-width="1.2" stroke-dasharray="4.5,1.8"/>
<line x1="726.5" y1="60" x2="737.50" y2="136.25" stroke="#ffb4b4" stroke-width="1.2" stroke-dasharray="4.5,1.8"/>
<line x1="748.5" y1="60" x2="760.25" y2="138.10" stroke="#ffb4b4" stroke-width="1.2" stroke-dasharray="4.5,1.8"/>
<line x1="771" y1="60" x2="783.50" y2="136.90" stroke="#ffb4b4" stroke-width="1.2" stroke-dasharray="4.5,1.8"/>
<line x1="77.5" y1="60" x2="78.00" y2="67.00" stroke="#acd8ff" stroke-width="1.2" stroke-dasharray="4.5,1.8"/>
<line x1="100.5" y1="60" x2="101.00" y2="68.00" stroke="#acd8ff" stroke-width="1.2" stroke-dasharray="4.5,1.8"/>
<line x1="122.5" y1="60" x2="124.00" y2="68.50" stroke="#acd8ff" stroke-width="1.2" stroke-dasharray="4.5,1.8"/>
<line x1="145.5" y1="60" x2="146.00" y2="68.50" stroke="#ffc0d8" stroke-width="1.2" stroke-dasharray="4.5,1.8"/>
<line x1="167.5" y1="60" x2="168.00" y2="67.00" stroke="#ffc0d8" stroke-width="1.2" stroke-dasharray="4.5,1.8"/>
<line x1="190.5" y1="60" x2="191.00" y2="66.50" stroke="#ffc0d8" stroke-width="1.2" stroke-dasharray="4.5,1.8"/>
<line x1="214.5" y1="60" x2="215.00" y2="67.50" stroke="#ffc0d8" stroke-width="1.2" stroke-dasharray="4.5,1.8"/>
<line x1="239.5" y1="60" x2="248.50" y2="128.50" stroke="#ffb4b4" stroke-width="1.2" stroke-dasharray="4.5,1.8"/>
<line x1="270.5" y1="60" x2="271.50" y2="66.00" stroke="#eab4ff" stroke-width="1.2" stroke-dasharray="4.5,1.8"/>
<line x1="292.5" y1="60" x2="293.50" y2="66.50" stroke="#eab4ff" stroke-width="1.2" stroke-dasharray="4.5,1.8"/>
<line x1="315.5" y1="60" x2="316.00" y2="69.75" stroke="#eab4ff" stroke-width="1.2" stroke-dasharray="4.5,1.8"/>
<line x1="337.5" y1="60" x2="338.00" y2="69.40" stroke="#eab4ff" stroke-width="1.2" stroke-dasharray="4.5,1.8"/>
<line x1="360.5" y1="60" x2="361.00" y2="67.50" stroke="#ffc0d8" stroke-width="1.2" stroke-dasharray="4.5,1.8"/>
<line x1="384.5" y1="60" x2="385.00" y2="67.50" stroke="#ffc0d8" stroke-width="1.2" stroke-dasharray="4.5,1.8"/>
<line x1="408.5" y1="60" x2="420.60" y2="137.25" stroke="#ffb4b4" stroke-width="1.2" stroke-dasharray="4.5,1.8"/>
<line x1="433.5" y1="60" x2="442.50" y2="125.25" stroke="#ffb4b4" stroke-width="1.2" stroke-dasharray="4.5,1.8"/>
<line x1="465.5" y1="60" x2="465.60" y2="61.00" stroke="#b2e2b2" stroke-width="1.2" stroke-dasharray="4.5,1.8"/>
<line x1="488.5" y1="60" x2="488.50" y2="62.00" stroke="#b2e2b2" stroke-width="1.2" stroke-dasharray="4.5,1.8"/>
<line x1="510.5" y1="60" x2="510.00" y2="64.40" stroke="#b2e2b2" stroke-width="1.2" stroke-dasharray="4.5,1.8"/>
<line x1="533.5" y1="60" x2="533.00" y2="67.50" stroke="#b2e2b2" stroke-width="1.2" stroke-dasharray="4.5,1.8"/>
<line x1="579.5" y1="60" x2="581.25" y2="70.25" stroke="#ffb4b4" stroke-width="1.2" stroke-dasharray="4.5,1.8"/>
<line x1="602.5" y1="60" x2="614.50" y2="151.00" stroke="#ffb4b4" stroke-width="1.2" stroke-dasharray="4.5,1.8"/>
<line x1="627.5" y1="60" x2="638.00" y2="142.00" stroke="#ffb4b4" stroke-width="1.2" stroke-dasharray="4.5,1.8"/>
<line x1="658.5" y1="60" x2="661.00" y2="80.00" stroke="#eab4ff" stroke-width="1.2" stroke-dasharray="4.5,1.8"/>
<line x1="681.5" y1="60" x2="684.40" y2="82.75" stroke="#eab4ff" stroke-width="1.2" stroke-dasharray="4.5,1.8"/>
<line x1="703.5" y1="60" x2="707.50" y2="84.40" stroke="#eab4ff" stroke-width="1.2" stroke-dasharray="4.5,1.8"/>
<line x1="726.5" y1="60" x2="729.40" y2="82.75" stroke="#ffb4b4" stroke-width="1.2" stroke-dasharray="4.5,1.8"/>
<line x1="748.5" y1="60" x2="752.50" y2="83.75" stroke="#ffb4b4" stroke-width="1.2" stroke-dasharray="4.5,1.8"/>
<line x1="771" y1="60" x2="775.60" y2="85.00" stroke="#ffb4b4" stroke-width="1.2" stroke-dasharray="4.5,1.8"/>
<line x1="77.5" y1="60" x2="78.00" y2="63.00" stroke="#acd8ff" stroke-width="1.2" stroke-dasharray="4.5,1.8"/>
<line x1="100.5" y1="60" x2="101.00" y2="64.00" stroke="#acd8ff" stroke-width="1.2" stroke-dasharray="4.5,1.8"/>
<line x1="122.5" y1="60" x2="124.00" y2="64.50" stroke="#acd8ff" stroke-width="1.2" stroke-dasharray="4.5,1.8"/>
<line x1="145.5" y1="60" x2="146.25" y2="64.40" stroke="#ffc0d8" stroke-width="1.2" stroke-dasharray="4.5,1.8"/>
<line x1="167.5" y1="60" x2="168.10" y2="64.75" stroke="#ffc0d8" stroke-width="1.2" stroke-dasharray="4.5,1.8"/>
<line x1="190.5" y1="60" x2="190.60" y2="64.40" stroke="#ffc0d8" stroke-width="1.2" stroke-dasharray="4.5,1.8"/>
<line x1="214.5" y1="60" x2="221.90" y2="121.25" stroke="#ffc0d8" stroke-width="1.2" stroke-dasharray="4.5,1.8"/>
<line x1="239.5" y1="60" x2="248.00" y2="125.60" stroke="#ffb4b4" stroke-width="1.2" stroke-dasharray="4.5,1.8"/>
<line x1="270.5" y1="60" x2="271.50" y2="66.00" stroke="#eab4ff" stroke-width="1.2" stroke-dasharray="4.5,1.8"/>
<line x1="292.5" y1="60" x2="293.50" y2="65.25" stroke="#eab4ff" stroke-width="1.2" stroke-dasharray="4.5,1.8"/>
<line x1="315.5" y1="60" x2="315.60" y2="63.10" stroke="#eab4ff" stroke-width="1.2" stroke-dasharray="4.5,1.8"/>
<line x1="337.5" y1="60" x2="338.00" y2="66.25" stroke="#eab4ff" stroke-width="1.2" stroke-dasharray="4.5,1.8"/>
<line x1="360.5" y1="60" x2="361.25" y2="65.60" stroke="#ffc0d8" stroke-width="1.2" stroke-dasharray="4.5,1.8"/>
<line x1="384.5" y1="60" x2="393.75" y2="132.50" stroke="#ffc0d8" stroke-width="1.2" stroke-dasharray="4.5,1.8"/>
<line x1="408.5" y1="60" x2="420.00" y2="141.00" stroke="#ffb4b4" stroke-width="1.2" stroke-dasharray="4.5,1.8"/>
<line x1="433.5" y1="60" x2="443.75" y2="130.00" stroke="#ffb4b4" stroke-width="1.2" stroke-dasharray="4.5,1.8"/>
<line x1="465.5" y1="60" x2="465.60" y2="61.00" stroke="#b2e2b2" stroke-width="1.2" stroke-dasharray="4.5,1.8"/>
<line x1="556.5" y1="60" x2="566.00" y2="128.00" stroke="#b0f0b0" stroke-width="1.2" stroke-dasharray="4.5,1.8"/>
<line x1="579.5" y1="60" x2="593.75" y2="153.50" stroke="#ffb4b4" stroke-width="1.2" stroke-dasharray="4.5,1.8"/>
<line x1="602.5" y1="60" x2="615.60" y2="154.00" stroke="#ffb4b4" stroke-width="1.2" stroke-dasharray="4.5,1.8"/>
<line x1="627.5" y1="60" x2="638.50" y2="140.00" stroke="#ffb4b4" stroke-width="1.2" stroke-dasharray="4.5,1.8"/>
<line x1="658.5" y1="60" x2="660.60" y2="73.10" stroke="#eab4ff" stroke-width="1.2" stroke-dasharray="4.5,1.8"/>
<line x1="681.5" y1="60" x2="682.50" y2="71.90" stroke="#eab4ff" stroke-width="1.2" stroke-dasharray="4.5,1.8"/>
<line x1="703.5" y1="60" x2="705.40" y2="69.75" stroke="#eab4ff" stroke-width="1.2" stroke-dasharray="4.5,1.8"/>
<line x1="726.5" y1="60" x2="733.10" y2="107.50" stroke="#ffb4b4" stroke-width="1.2" stroke-dasharray="4.5,1.8"/>
<line x1="748.5" y1="60" x2="759.40" y2="129.40" stroke="#ffb4b4" stroke-width="1.2" stroke-dasharray="4.5,1.8"/>
<line x1="771" y1="60" x2="782.50" y2="130.25" stroke="#ffb4b4" stroke-width="1.2" stroke-dasharray="4.5,1.8"/>
<line x1="77.5" y1="60" x2="77.50" y2="63.20" stroke="#acd8ff" stroke-width="1.2" stroke-dasharray="4.5,1.8"/>
<line x1="100.5" y1="60" x2="100.50" y2="62.30" stroke="#acd8ff" stroke-width="1.2" stroke-dasharray="4.5,1.8"/>
<line x1="122.5" y1="60" x2="122.50" y2="62.30" stroke="#acd8ff" stroke-width="1.2" stroke-dasharray="4.5,1.8"/>
<line x1="239.5" y1="60" x2="248.00" y2="123.50" stroke="#ffb4b4" stroke-width="1.2" stroke-dasharray="4.5,1.8"/>
<line x1="270.5" y1="60" x2="270.00" y2="62.00" stroke="#eab4ff" stroke-width="1.2" stroke-dasharray="4.5,1.8"/>
<line x1="292.5" y1="60" x2="292.50" y2="62.00" stroke="#eab4ff" stroke-width="1.2" stroke-dasharray="4.5,1.8"/>
<line x1="315.5" y1="60" x2="315.50" y2="62.00" stroke="#eab4ff" stroke-width="1.2" stroke-dasharray="4.5,1.8"/>
<line x1="337.5" y1="60" x2="337.50" y2="62.00" stroke="#eab4ff" stroke-width="1.2" stroke-dasharray="4.5,1.8"/>
<line x1="408.5" y1="60" x2="421.00" y2="146.00" stroke="#ffb4b4" stroke-width="1.2" stroke-dasharray="4.5,1.8"/>
<line x1="433.5" y1="60" x2="443.75" y2="133.75" stroke="#ffb4b4" stroke-width="1.2" stroke-dasharray="4.5,1.8"/>
<line x1="465.5" y1="60" x2="468.00" y2="64.40" stroke="#b2e2b2" stroke-width="1.2" stroke-dasharray="4.5,1.8"/>
<line x1="488.5" y1="60" x2="490.00" y2="75.00" stroke="#b2e2b2" stroke-width="1.2" stroke-dasharray="4.5,1.8"/>
<line x1="510.5" y1="60" x2="512.50" y2="74.75" stroke="#b2e2b2" stroke-width="1.2" stroke-dasharray="4.5,1.8"/>
<line x1="533.5" y1="60" x2="534.40" y2="73.10" stroke="#b2e2b2" stroke-width="1.2" stroke-dasharray="4.5,1.8"/>
<line x1="556.5" y1="60" x2="559.40" y2="75.00" stroke="#b0f0b0" stroke-width="1.2" stroke-dasharray="4.5,1.8"/>
<line x1="579.5" y1="60" x2="592.50" y2="147.50" stroke="#ffb4b4" stroke-width="1.2" stroke-dasharray="4.5,1.8"/>
<line x1="602.5" y1="60" x2="615.60" y2="147.25" stroke="#ffb4b4" stroke-width="1.2" stroke-dasharray="4.5,1.8"/>
<line x1="627.5" y1="60" x2="637.50" y2="132.50" stroke="#ffb4b4" stroke-width="1.2" stroke-dasharray="4.5,1.8"/>
<line x1="658.5" y1="60" x2="659.40" y2="67.50" stroke="#eab4ff" stroke-width="1.2" stroke-dasharray="4.5,1.8"/>
<line x1="681.5" y1="60" x2="682.00" y2="66.50" stroke="#eab4ff" stroke-width="1.2" stroke-dasharray="4.5,1.8"/>
<line x1="703.5" y1="60" x2="705.00" y2="65.50" stroke="#eab4ff" stroke-width="1.2" stroke-dasharray="4.5,1.8"/>
<line x1="726.5" y1="60" x2="728.50" y2="76.25" stroke="#ffb4b4" stroke-width="1.2" stroke-dasharray="4.5,1.8"/>
<line x1="748.5" y1="60" x2="757.50" y2="116.90" stroke="#ffb4b4" stroke-width="1.2" stroke-dasharray="4.5,1.8"/>
<line x1="771" y1="60" x2="779.40" y2="114.00" stroke="#ffb4b4" stroke-width="1.2" stroke-dasharray="4.5,1.8"/>
<line x1="77.5" y1="60" x2="77.50" y2="63.00" stroke="#acd8ff" stroke-width="1.2" stroke-dasharray="4.5,1.8"/>
<line x1="100.5" y1="60" x2="100.50" y2="63.00" stroke="#acd8ff" stroke-width="1.2" stroke-dasharray="4.5,1.8"/>
<line x1="122.5" y1="60" x2="122.50" y2="63.00" stroke="#acd8ff" stroke-width="1.2" stroke-dasharray="4.5,1.8"/>
<line x1="145.5" y1="60" x2="145.50" y2="62.00" stroke="#ffc0d8" stroke-width="1.2" stroke-dasharray="4.5,1.8"/>
<line x1="167.5" y1="60" x2="167.50" y2="62.00" stroke="#ffc0d8" stroke-width="1.2" stroke-dasharray="4.5,1.8"/>
<line x1="190.5" y1="60" x2="190.60" y2="62.00" stroke="#ffc0d8" stroke-width="1.2" stroke-dasharray="4.5,1.8"/>
<line x1="214.5" y1="60" x2="214.40" y2="62.00" stroke="#ffc0d8" stroke-width="1.2" stroke-dasharray="4.5,1.8"/>
<line x1="239.5" y1="60" x2="249.00" y2="123.00" stroke="#ffb4b4" stroke-width="1.2" stroke-dasharray="4.5,1.8"/>
<line x1="360.5" y1="60" x2="360.50" y2="62.00" stroke="#ffc0d8" stroke-width="1.2" stroke-dasharray="4.5,1.8"/>
<line x1="384.5" y1="60" x2="384.50" y2="62.00" stroke="#ffc0d8" stroke-width="1.2" stroke-dasharray="4.5,1.8"/>
<line x1="408.5" y1="60" x2="421.00" y2="148.75" stroke="#ffb4b4" stroke-width="1.2" stroke-dasharray="4.5,1.8"/>
<line x1="433.5" y1="60" x2="445.00" y2="136.90" stroke="#ffb4b4" stroke-width="1.2" stroke-dasharray="4.5,1.8"/>
<line x1="465.5" y1="60" x2="466.90" y2="68.00" stroke="#b2e2b2" stroke-width="1.2" stroke-dasharray="4.5,1.8"/>
<line x1="488.5" y1="60" x2="489.40" y2="66.00" stroke="#b2e2b2" stroke-width="1.2" stroke-dasharray="4.5,1.8"/>
<line x1="510.5" y1="60" x2="511.25" y2="65.60" stroke="#b2e2b2" stroke-width="1.2" stroke-dasharray="4.5,1.8"/>
<line x1="533.5" y1="60" x2="533.10" y2="65.25" stroke="#b2e2b2" stroke-width="1.2" stroke-dasharray="4.5,1.8"/>
<line x1="556.5" y1="60" x2="557.50" y2="66.25" stroke="#b0f0b0" stroke-width="1.2" stroke-dasharray="4.5,1.8"/>
<line x1="579.5" y1="60" x2="591.25" y2="137.50" stroke="#ffb4b4" stroke-width="1.2" stroke-dasharray="4.5,1.8"/>
<line x1="602.5" y1="60" x2="613.50" y2="137.50" stroke="#ffb4b4" stroke-width="1.2" stroke-dasharray="4.5,1.8"/>
<line x1="627.5" y1="60" x2="636.50" y2="123.75" stroke="#ffb4b4" stroke-width="1.2" stroke-dasharray="4.5,1.8"/>
<line x1="726.5" y1="60" x2="728.50" y2="70.00" stroke="#ffb4b4" stroke-width="1.2" stroke-dasharray="4.5,1.8"/>
<line x1="748.5" y1="60" x2="756.90" y2="110.60" stroke="#ffb4b4" stroke-width="1.2" stroke-dasharray="4.5,1.8"/>
<line x1="771" y1="60" x2="779.40" y2="110.00" stroke="#ffb4b4" stroke-width="1.2" stroke-dasharray="4.5,1.8"/>
<line x1="77.5" y1="60" x2="78.00" y2="70.00" stroke="#acd8ff" stroke-width="1.2" stroke-dasharray="4.5,1.8"/>
<line x1="100.5" y1="60" x2="101.00" y2="70.00" stroke="#acd8ff" stroke-width="1.2" stroke-dasharray="4.5,1.8"/>
<line x1="122.5" y1="60" x2="124.00" y2="71.50" stroke="#acd8ff" stroke-width="1.2" stroke-dasharray="4.5,1.8"/>
<line x1="145.5" y1="60" x2="146.00" y2="70.50" stroke="#ffc0d8" stroke-width="1.2" stroke-dasharray="4.5,1.8"/>
<line x1="167.5" y1="60" x2="168.50" y2="72.00" stroke="#ffc0d8" stroke-width="1.2" stroke-dasharray="4.5,1.8"/>
<line x1="190.5" y1="60" x2="190.50" y2="73.00" stroke="#ffc0d8" stroke-width="1.2" stroke-dasharray="4.5,1.8"/>
<line x1="214.5" y1="60" x2="214.50" y2="64.00" stroke="#ffc0d8" stroke-width="1.2" stroke-dasharray="4.5,1.8"/>
<line x1="270.5" y1="60" x2="272.00" y2="82.75" stroke="#eab4ff" stroke-width="1.2" stroke-dasharray="4.5,1.8"/>
<line x1="292.5" y1="60" x2="295.00" y2="82.00" stroke="#eab4ff" stroke-width="1.2" stroke-dasharray="4.5,1.8"/>
<line x1="315.5" y1="60" x2="317.50" y2="87.00" stroke="#eab4ff" stroke-width="1.2" stroke-dasharray="4.5,1.8"/>
<line x1="337.5" y1="60" x2="340.50" y2="87.00" stroke="#eab4ff" stroke-width="1.2" stroke-dasharray="4.5,1.8"/>
<line x1="360.5" y1="60" x2="364.00" y2="88.00" stroke="#ffc0d8" stroke-width="1.2" stroke-dasharray="4.5,1.8"/>
<line x1="384.5" y1="60" x2="386.00" y2="75.00" stroke="#ffc0d8" stroke-width="1.2" stroke-dasharray="4.5,1.8"/>
<line x1="465.5" y1="60" x2="467.75" y2="71.50" stroke="#b2e2b2" stroke-width="1.2" stroke-dasharray="4.5,1.8"/>
<line x1="488.5" y1="60" x2="489.40" y2="70.60" stroke="#b2e2b2" stroke-width="1.2" stroke-dasharray="4.5,1.8"/>
<line x1="510.5" y1="60" x2="512.50" y2="71.90" stroke="#b2e2b2" stroke-width="1.2" stroke-dasharray="4.5,1.8"/>
<line x1="533.5" y1="60" x2="534.40" y2="72.50" stroke="#b2e2b2" stroke-width="1.2" stroke-dasharray="4.5,1.8"/>
<line x1="556.5" y1="60" x2="557.00" y2="62.50" stroke="#b0f0b0" stroke-width="1.2" stroke-dasharray="4.5,1.8"/>
<line x1="658.5" y1="60" x2="658.75" y2="63.75" stroke="#eab4ff" stroke-width="1.2" stroke-dasharray="4.5,1.8"/>
<line x1="681.5" y1="60" x2="681.90" y2="64.75" stroke="#eab4ff" stroke-width="1.2" stroke-dasharray="4.5,1.8"/>
<line x1="703.5" y1="60" x2="704.40" y2="63.75" stroke="#eab4ff" stroke-width="1.2" stroke-dasharray="4.5,1.8"/>
<line x1="771" y1="60" x2="771.25" y2="60.50" stroke="#ffb4b4" stroke-width="1.2" stroke-dasharray="4.5,1.8"/>
<line x1="31" y1="60.5" x2="770" y2="60.5" stroke="#888" stroke-width="1"/>
<line x1="31" y1="98.5" x2="770" y2="98.5" stroke="#d0d0d0" stroke-width="1"/>
<line x1="31" y1="137.5" x2="770" y2="137.5" stroke="#888" stroke-width="1"/>
<line x1="31" y1="176.5" x2="770" y2="176.5" stroke="#d0d0d0" stroke-width="1"/>
<line x1="31" y1="214.5" x2="770" y2="214.5" stroke="#888" stroke-width="1"/>
<line x1="31" y1="252.5" x2="770" y2="252.5" stroke="#d0d0d0" stroke-width="1"/>
<line x1="31" y1="291.5" x2="770" y2="291.5" stroke="#888" stroke-width="1"/>
<line x1="31" y1="330.5" x2="770" y2="330.5" stroke="#d0d0d0" stroke-width="1"/>
<polyline points="30.00,68.00 78.00,72.00 104.00,84.00 127.50,96.50 150.50,96.50 175.00,100.00 196.25,99.75 219.40,101.00 254.00,162.00 280.00,119.00 300.00,118.00 323.00,117.50 346.00,120.00 369.00,118.50 393.75,119.40 429.00,200.00 452.00,190.00 475.00,121.00 496.25,119.40 519.40,120.00 541.25,119.40 566.25,123.75 600.00,201.25 623.75,203.10 645.60,191.90 668.50,128.75 691.50,130.00 713.50,130.60 738.50,141.50 769.50,203.40 793.10,203.80" fill="none" stroke="#8a3a9a" stroke-width="2.6" stroke-linejoin="round" stroke-linecap="round"/>
<circle cx="78.00" cy="72.00" r="2.5" fill="#fff" stroke="#8a3a9a" stroke-width="1.3"/>
<circle cx="104.00" cy="84.00" r="2.5" fill="#fff" stroke="#8a3a9a" stroke-width="1.3"/>
<circle cx="127.50" cy="96.50" r="2.5" fill="#fff" stroke="#8a3a9a" stroke-width="1.3"/>
<circle cx="150.50" cy="96.50" r="2.5" fill="#fff" stroke="#8a3a9a" stroke-width="1.3"/>
<circle cx="175.00" cy="100.00" r="2.5" fill="#fff" stroke="#8a3a9a" stroke-width="1.3"/>
<circle cx="196.25" cy="99.75" r="2.5" fill="#fff" stroke="#8a3a9a" stroke-width="1.3"/>
<circle cx="219.40" cy="101.00" r="2.5" fill="#fff" stroke="#8a3a9a" stroke-width="1.3"/>
<circle cx="254.00" cy="162.00" r="2.5" fill="#fff" stroke="#8a3a9a" stroke-width="1.3"/>
<circle cx="280.00" cy="119.00" r="2.5" fill="#fff" stroke="#8a3a9a" stroke-width="1.3"/>
<circle cx="300.00" cy="118.00" r="2.5" fill="#fff" stroke="#8a3a9a" stroke-width="1.3"/>
<circle cx="323.00" cy="117.50" r="2.5" fill="#fff" stroke="#8a3a9a" stroke-width="1.3"/>
<circle cx="346.00" cy="120.00" r="2.5" fill="#fff" stroke="#8a3a9a" stroke-width="1.3"/>
<circle cx="369.00" cy="118.50" r="2.5" fill="#fff" stroke="#8a3a9a" stroke-width="1.3"/>
<circle cx="393.75" cy="119.40" r="2.5" fill="#fff" stroke="#8a3a9a" stroke-width="1.3"/>
<circle cx="429.00" cy="200.00" r="2.5" fill="#fff" stroke="#8a3a9a" stroke-width="1.3"/>
<circle cx="452.00" cy="190.00" r="2.5" fill="#fff" stroke="#8a3a9a" stroke-width="1.3"/>
<circle cx="475.00" cy="121.00" r="2.5" fill="#fff" stroke="#8a3a9a" stroke-width="1.3"/>
<circle cx="496.25" cy="119.40" r="2.5" fill="#fff" stroke="#8a3a9a" stroke-width="1.3"/>
<circle cx="519.40" cy="120.00" r="2.5" fill="#fff" stroke="#8a3a9a" stroke-width="1.3"/>
<circle cx="541.25" cy="119.40" r="2.5" fill="#fff" stroke="#8a3a9a" stroke-width="1.3"/>
<circle cx="566.25" cy="123.75" r="2.5" fill="#fff" stroke="#8a3a9a" stroke-width="1.3"/>
<circle cx="600.00" cy="201.25" r="2.5" fill="#fff" stroke="#8a3a9a" stroke-width="1.3"/>
<circle cx="623.75" cy="203.10" r="2.5" fill="#fff" stroke="#8a3a9a" stroke-width="1.3"/>
<circle cx="645.60" cy="191.90" r="2.5" fill="#fff" stroke="#8a3a9a" stroke-width="1.3"/>
<circle cx="668.50" cy="128.75" r="2.5" fill="#fff" stroke="#8a3a9a" stroke-width="1.3"/>
<circle cx="691.50" cy="130.00" r="2.5" fill="#fff" stroke="#8a3a9a" stroke-width="1.3"/>
<circle cx="713.50" cy="130.60" r="2.5" fill="#fff" stroke="#8a3a9a" stroke-width="1.3"/>
<circle cx="738.50" cy="141.50" r="2.5" fill="#fff" stroke="#8a3a9a" stroke-width="1.3"/>
<circle cx="769.50" cy="203.40" r="2.5" fill="#fff" stroke="#8a3a9a" stroke-width="1.3"/>
<circle cx="793.10" cy="203.80" r="2.5" fill="#fff" stroke="#8a3a9a" stroke-width="1.3"/>
<polyline points="30.00,66.00 78.00,68.00 101.00,72.00 124.00,77.00 148.00,83.00 172.00,88.00 194.40,91.90 217.50,93.75 253.75,161.90 277.00,103.00 299.40,104.00 322.50,109.75 346.60,116.90 368.50,118.50 393.75,123.00 428.00,200.00 451.25,190.00 474.40,123.75 497.50,123.10 519.40,124.40 541.90,125.00 567.50,136.90 602.50,214.40 625.00,215.60 647.50,203.75 670.75,143.75 693.00,145.50 716.25,148.00 739.50,150.00 765.00,167.90 793.60,209.00" fill="none" stroke="#1a14b8" stroke-width="2.6" stroke-linejoin="round" stroke-linecap="round"/>
<circle cx="78.00" cy="68.00" r="2.5" fill="#fff" stroke="#1a14b8" stroke-width="1.3"/>
<circle cx="101.00" cy="72.00" r="2.5" fill="#fff" stroke="#1a14b8" stroke-width="1.3"/>
<circle cx="124.00" cy="77.00" r="2.5" fill="#fff" stroke="#1a14b8" stroke-width="1.3"/>
<circle cx="148.00" cy="83.00" r="2.5" fill="#fff" stroke="#1a14b8" stroke-width="1.3"/>
<circle cx="172.00" cy="88.00" r="2.5" fill="#fff" stroke="#1a14b8" stroke-width="1.3"/>
<circle cx="194.40" cy="91.90" r="2.5" fill="#fff" stroke="#1a14b8" stroke-width="1.3"/>
<circle cx="217.50" cy="93.75" r="2.5" fill="#fff" stroke="#1a14b8" stroke-width="1.3"/>
<circle cx="253.75" cy="161.90" r="2.5" fill="#fff" stroke="#1a14b8" stroke-width="1.3"/>
<circle cx="277.00" cy="103.00" r="2.5" fill="#fff" stroke="#1a14b8" stroke-width="1.3"/>
<circle cx="299.40" cy="104.00" r="2.5" fill="#fff" stroke="#1a14b8" stroke-width="1.3"/>
<circle cx="322.50" cy="109.75" r="2.5" fill="#fff" stroke="#1a14b8" stroke-width="1.3"/>
<circle cx="346.60" cy="116.90" r="2.5" fill="#fff" stroke="#1a14b8" stroke-width="1.3"/>
<circle cx="368.50" cy="118.50" r="2.5" fill="#fff" stroke="#1a14b8" stroke-width="1.3"/>
<circle cx="393.75" cy="123.00" r="2.5" fill="#fff" stroke="#1a14b8" stroke-width="1.3"/>
<circle cx="428.00" cy="200.00" r="2.5" fill="#fff" stroke="#1a14b8" stroke-width="1.3"/>
<circle cx="451.25" cy="190.00" r="2.5" fill="#fff" stroke="#1a14b8" stroke-width="1.3"/>
<circle cx="474.40" cy="123.75" r="2.5" fill="#fff" stroke="#1a14b8" stroke-width="1.3"/>
<circle cx="497.50" cy="123.10" r="2.5" fill="#fff" stroke="#1a14b8" stroke-width="1.3"/>
<circle cx="519.40" cy="124.40" r="2.5" fill="#fff" stroke="#1a14b8" stroke-width="1.3"/>
<circle cx="541.90" cy="125.00" r="2.5" fill="#fff" stroke="#1a14b8" stroke-width="1.3"/>
<circle cx="567.50" cy="136.90" r="2.5" fill="#fff" stroke="#1a14b8" stroke-width="1.3"/>
<circle cx="602.50" cy="214.40" r="2.5" fill="#fff" stroke="#1a14b8" stroke-width="1.3"/>
<circle cx="625.00" cy="215.60" r="2.5" fill="#fff" stroke="#1a14b8" stroke-width="1.3"/>
<circle cx="647.50" cy="203.75" r="2.5" fill="#fff" stroke="#1a14b8" stroke-width="1.3"/>
<circle cx="670.75" cy="143.75" r="2.5" fill="#fff" stroke="#1a14b8" stroke-width="1.3"/>
<circle cx="693.00" cy="145.50" r="2.5" fill="#fff" stroke="#1a14b8" stroke-width="1.3"/>
<circle cx="716.25" cy="148.00" r="2.5" fill="#fff" stroke="#1a14b8" stroke-width="1.3"/>
<circle cx="739.50" cy="150.00" r="2.5" fill="#fff" stroke="#1a14b8" stroke-width="1.3"/>
<circle cx="765.00" cy="167.90" r="2.5" fill="#fff" stroke="#1a14b8" stroke-width="1.3"/>
<circle cx="793.60" cy="209.00" r="2.5" fill="#fff" stroke="#1a14b8" stroke-width="1.3"/>
<polyline points="30.00,60.60 86.00,121.00 119.00,195.50 142.50,197.00 165.00,198.00 187.50,201.50 210.50,204.00 233.75,194.50 256.00,179.00 280.00,129.00 314.50,208.00 337.00,210.75 360.50,213.50 383.50,218.50 406.25,209.40 429.40,203.00 452.50,193.00 476.25,137.00 513.25,236.25 535.50,235.50 558.00,233.75 580.00,223.75 602.50,217.50 624.50,215.60 649.50,213.75 683.60,233.50 706.40,233.50 728.30,232.10 750.20,228.60 773.50,229.20" fill="none" stroke="#9cc45a" stroke-width="2.6" stroke-linejoin="round" stroke-linecap="round"/>
<circle cx="31.50" cy="60.60" r="2.5" fill="#fff" stroke="#9cc45a" stroke-width="1.3"/>
<circle cx="86.00" cy="121.00" r="2.5" fill="#fff" stroke="#9cc45a" stroke-width="1.3"/>
<circle cx="119.00" cy="195.50" r="2.5" fill="#fff" stroke="#9cc45a" stroke-width="1.3"/>
<circle cx="142.50" cy="197.00" r="2.5" fill="#fff" stroke="#9cc45a" stroke-width="1.3"/>
<circle cx="165.00" cy="198.00" r="2.5" fill="#fff" stroke="#9cc45a" stroke-width="1.3"/>
<circle cx="187.50" cy="201.50" r="2.5" fill="#fff" stroke="#9cc45a" stroke-width="1.3"/>
<circle cx="210.50" cy="204.00" r="2.5" fill="#fff" stroke="#9cc45a" stroke-width="1.3"/>
<circle cx="233.75" cy="194.50" r="2.5" fill="#fff" stroke="#9cc45a" stroke-width="1.3"/>
<circle cx="256.00" cy="179.00" r="2.5" fill="#fff" stroke="#9cc45a" stroke-width="1.3"/>
<circle cx="280.00" cy="129.00" r="2.5" fill="#fff" stroke="#9cc45a" stroke-width="1.3"/>
<circle cx="314.50" cy="208.00" r="2.5" fill="#fff" stroke="#9cc45a" stroke-width="1.3"/>
<circle cx="337.00" cy="210.75" r="2.5" fill="#fff" stroke="#9cc45a" stroke-width="1.3"/>
<circle cx="360.50" cy="213.50" r="2.5" fill="#fff" stroke="#9cc45a" stroke-width="1.3"/>
<circle cx="383.50" cy="218.50" r="2.5" fill="#fff" stroke="#9cc45a" stroke-width="1.3"/>
<circle cx="406.25" cy="209.40" r="2.5" fill="#fff" stroke="#9cc45a" stroke-width="1.3"/>
<circle cx="429.40" cy="203.00" r="2.5" fill="#fff" stroke="#9cc45a" stroke-width="1.3"/>
<circle cx="452.50" cy="193.00" r="2.5" fill="#fff" stroke="#9cc45a" stroke-width="1.3"/>
<circle cx="476.25" cy="137.00" r="2.5" fill="#fff" stroke="#9cc45a" stroke-width="1.3"/>
<circle cx="513.25" cy="236.25" r="2.5" fill="#fff" stroke="#9cc45a" stroke-width="1.3"/>
<circle cx="535.50" cy="235.50" r="2.5" fill="#fff" stroke="#9cc45a" stroke-width="1.3"/>
<circle cx="558.00" cy="233.75" r="2.5" fill="#fff" stroke="#9cc45a" stroke-width="1.3"/>
<circle cx="580.00" cy="223.75" r="2.5" fill="#fff" stroke="#9cc45a" stroke-width="1.3"/>
<circle cx="602.50" cy="217.50" r="2.5" fill="#fff" stroke="#9cc45a" stroke-width="1.3"/>
<circle cx="624.50" cy="215.60" r="2.5" fill="#fff" stroke="#9cc45a" stroke-width="1.3"/>
<circle cx="649.50" cy="213.75" r="2.5" fill="#fff" stroke="#9cc45a" stroke-width="1.3"/>
<circle cx="683.60" cy="233.50" r="2.5" fill="#fff" stroke="#9cc45a" stroke-width="1.3"/>
<circle cx="706.40" cy="233.50" r="2.5" fill="#fff" stroke="#9cc45a" stroke-width="1.3"/>
<circle cx="728.30" cy="232.10" r="2.5" fill="#fff" stroke="#9cc45a" stroke-width="1.3"/>
<circle cx="750.20" cy="228.60" r="2.5" fill="#fff" stroke="#9cc45a" stroke-width="1.3"/>
<circle cx="773.50" cy="229.20" r="2.5" fill="#fff" stroke="#9cc45a" stroke-width="1.3"/>
<polyline points="30.00,69.50 78.00,67.00 101.00,68.00 124.00,68.50 146.00,68.50 168.00,67.00 191.00,66.50 215.00,67.50 248.50,128.50 271.50,66.00 293.50,66.50 316.00,69.75 338.00,69.40 361.00,67.50 385.00,67.50 420.60,137.25 442.50,125.25 465.60,61.00 488.50,62.00 510.00,64.40 533.00,67.50 556.25,60.60 581.25,70.25 614.50,151.00 638.00,142.00 661.00,80.00 684.40,82.75 707.50,84.40 729.40,82.75 752.50,83.75 775.60,85.00" fill="none" stroke="#11cc11" stroke-width="2.6" stroke-linejoin="round" stroke-linecap="round"/>
<circle cx="78.00" cy="67.00" r="2.5" fill="#fff" stroke="#11cc11" stroke-width="1.3"/>
<circle cx="101.00" cy="68.00" r="2.5" fill="#fff" stroke="#11cc11" stroke-width="1.3"/>
<circle cx="124.00" cy="68.50" r="2.5" fill="#fff" stroke="#11cc11" stroke-width="1.3"/>
<circle cx="146.00" cy="68.50" r="2.5" fill="#fff" stroke="#11cc11" stroke-width="1.3"/>
<circle cx="168.00" cy="67.00" r="2.5" fill="#fff" stroke="#11cc11" stroke-width="1.3"/>
<circle cx="191.00" cy="66.50" r="2.5" fill="#fff" stroke="#11cc11" stroke-width="1.3"/>
<circle cx="215.00" cy="67.50" r="2.5" fill="#fff" stroke="#11cc11" stroke-width="1.3"/>
<circle cx="248.50" cy="128.50" r="2.5" fill="#fff" stroke="#11cc11" stroke-width="1.3"/>
<circle cx="271.50" cy="66.00" r="2.5" fill="#fff" stroke="#11cc11" stroke-width="1.3"/>
<circle cx="293.50" cy="66.50" r="2.5" fill="#fff" stroke="#11cc11" stroke-width="1.3"/>
<circle cx="316.00" cy="69.75" r="2.5" fill="#fff" stroke="#11cc11" stroke-width="1.3"/>
<circle cx="338.00" cy="69.40" r="2.5" fill="#fff" stroke="#11cc11" stroke-width="1.3"/>
<circle cx="361.00" cy="67.50" r="2.5" fill="#fff" stroke="#11cc11" stroke-width="1.3"/>
<circle cx="385.00" cy="67.50" r="2.5" fill="#fff" stroke="#11cc11" stroke-width="1.3"/>
<circle cx="420.60" cy="137.25" r="2.5" fill="#fff" stroke="#11cc11" stroke-width="1.3"/>
<circle cx="442.50" cy="125.25" r="2.5" fill="#fff" stroke="#11cc11" stroke-width="1.3"/>
<circle cx="465.60" cy="61.00" r="2.5" fill="#fff" stroke="#11cc11" stroke-width="1.3"/>
<circle cx="488.50" cy="62.00" r="2.5" fill="#fff" stroke="#11cc11" stroke-width="1.3"/>
<circle cx="510.00" cy="64.40" r="2.5" fill="#fff" stroke="#11cc11" stroke-width="1.3"/>
<circle cx="533.00" cy="67.50" r="2.5" fill="#fff" stroke="#11cc11" stroke-width="1.3"/>
<circle cx="556.25" cy="60.60" r="2.5" fill="#fff" stroke="#11cc11" stroke-width="1.3"/>
<circle cx="581.25" cy="70.25" r="2.5" fill="#fff" stroke="#11cc11" stroke-width="1.3"/>
<circle cx="614.50" cy="151.00" r="2.5" fill="#fff" stroke="#11cc11" stroke-width="1.3"/>
<circle cx="638.00" cy="142.00" r="2.5" fill="#fff" stroke="#11cc11" stroke-width="1.3"/>
<circle cx="661.00" cy="80.00" r="2.5" fill="#fff" stroke="#11cc11" stroke-width="1.3"/>
<circle cx="684.40" cy="82.75" r="2.5" fill="#fff" stroke="#11cc11" stroke-width="1.3"/>
<circle cx="707.50" cy="84.40" r="2.5" fill="#fff" stroke="#11cc11" stroke-width="1.3"/>
<circle cx="729.40" cy="82.75" r="2.5" fill="#fff" stroke="#11cc11" stroke-width="1.3"/>
<circle cx="752.50" cy="83.75" r="2.5" fill="#fff" stroke="#11cc11" stroke-width="1.3"/>
<circle cx="775.60" cy="85.00" r="2.5" fill="#fff" stroke="#11cc11" stroke-width="1.3"/>
<polyline points="30.00,66.50 78.00,66.50 101.00,67.00 124.00,67.00 149.50,67.50 170.00,83.00 194.00,99.00 226.90,154.40 250.60,138.75 273.00,79.40 295.60,79.60 318.40,78.50 340.60,79.75 363.50,79.75 387.50,81.00 425.25,172.50 447.50,157.50 470.00,88.00 491.50,86.25 514.00,84.00 536.00,83.00 557.00,71.25 582.50,78.50 616.25,158.75 639.75,143.75 661.90,80.00 684.40,80.00 708.50,91.50 730.40,89.00 753.50,88.10 775.60,85.25" fill="none" stroke="#0a0aff" stroke-width="2.6" stroke-linejoin="round" stroke-linecap="round"/>
<circle cx="78.00" cy="66.50" r="2.5" fill="#fff" stroke="#0a0aff" stroke-width="1.3"/>
<circle cx="101.00" cy="67.00" r="2.5" fill="#fff" stroke="#0a0aff" stroke-width="1.3"/>
<circle cx="124.00" cy="67.00" r="2.5" fill="#fff" stroke="#0a0aff" stroke-width="1.3"/>
<circle cx="149.50" cy="67.50" r="2.5" fill="#fff" stroke="#0a0aff" stroke-width="1.3"/>
<circle cx="170.00" cy="83.00" r="2.5" fill="#fff" stroke="#0a0aff" stroke-width="1.3"/>
<circle cx="194.00" cy="99.00" r="2.5" fill="#fff" stroke="#0a0aff" stroke-width="1.3"/>
<circle cx="226.90" cy="154.40" r="2.5" fill="#fff" stroke="#0a0aff" stroke-width="1.3"/>
<circle cx="250.60" cy="138.75" r="2.5" fill="#fff" stroke="#0a0aff" stroke-width="1.3"/>
<circle cx="273.00" cy="79.40" r="2.5" fill="#fff" stroke="#0a0aff" stroke-width="1.3"/>
<circle cx="295.60" cy="79.60" r="2.5" fill="#fff" stroke="#0a0aff" stroke-width="1.3"/>
<circle cx="318.40" cy="78.50" r="2.5" fill="#fff" stroke="#0a0aff" stroke-width="1.3"/>
<circle cx="340.60" cy="79.75" r="2.5" fill="#fff" stroke="#0a0aff" stroke-width="1.3"/>
<circle cx="363.50" cy="79.75" r="2.5" fill="#fff" stroke="#0a0aff" stroke-width="1.3"/>
<circle cx="387.50" cy="81.00" r="2.5" fill="#fff" stroke="#0a0aff" stroke-width="1.3"/>
<circle cx="425.25" cy="172.50" r="2.5" fill="#fff" stroke="#0a0aff" stroke-width="1.3"/>
<circle cx="447.50" cy="157.50" r="2.5" fill="#fff" stroke="#0a0aff" stroke-width="1.3"/>
<circle cx="470.00" cy="88.00" r="2.5" fill="#fff" stroke="#0a0aff" stroke-width="1.3"/>
<circle cx="491.50" cy="86.25" r="2.5" fill="#fff" stroke="#0a0aff" stroke-width="1.3"/>
<circle cx="514.00" cy="84.00" r="2.5" fill="#fff" stroke="#0a0aff" stroke-width="1.3"/>
<circle cx="536.00" cy="83.00" r="2.5" fill="#fff" stroke="#0a0aff" stroke-width="1.3"/>
<circle cx="557.00" cy="71.25" r="2.5" fill="#fff" stroke="#0a0aff" stroke-width="1.3"/>
<circle cx="582.50" cy="78.50" r="2.5" fill="#fff" stroke="#0a0aff" stroke-width="1.3"/>
<circle cx="616.25" cy="158.75" r="2.5" fill="#fff" stroke="#0a0aff" stroke-width="1.3"/>
<circle cx="639.75" cy="143.75" r="2.5" fill="#fff" stroke="#0a0aff" stroke-width="1.3"/>
<circle cx="661.90" cy="80.00" r="2.5" fill="#fff" stroke="#0a0aff" stroke-width="1.3"/>
<circle cx="684.40" cy="80.00" r="2.5" fill="#fff" stroke="#0a0aff" stroke-width="1.3"/>
<circle cx="708.50" cy="91.50" r="2.5" fill="#fff" stroke="#0a0aff" stroke-width="1.3"/>
<circle cx="730.40" cy="89.00" r="2.5" fill="#fff" stroke="#0a0aff" stroke-width="1.3"/>
<circle cx="753.50" cy="88.10" r="2.5" fill="#fff" stroke="#0a0aff" stroke-width="1.3"/>
<circle cx="775.60" cy="85.25" r="2.5" fill="#fff" stroke="#0a0aff" stroke-width="1.3"/>
<polyline points="30.00,72.30 78.00,70.00 101.00,70.00 124.00,71.50 146.00,70.50 168.50,72.00 190.50,73.00 214.50,64.00 239.50,60.50 272.00,82.75 295.00,82.00 317.50,87.00 340.50,87.00 364.00,88.00 386.00,75.00 408.50,60.50 433.50,60.00 467.75,71.50 489.40,70.60 512.50,71.90 534.40,72.50 557.00,62.50 579.50,60.50 602.25,60.50 627.25,60.50 658.75,63.75 681.90,64.75 704.40,63.75 726.25,60.50 749.40,60.50 771.25,60.50" fill="none" stroke="#ff0000" stroke-width="2.6" stroke-linejoin="round" stroke-linecap="round"/>
<circle cx="78.00" cy="70.00" r="2.5" fill="#fff" stroke="#ff0000" stroke-width="1.3"/>
<circle cx="101.00" cy="70.00" r="2.5" fill="#fff" stroke="#ff0000" stroke-width="1.3"/>
<circle cx="124.00" cy="71.50" r="2.5" fill="#fff" stroke="#ff0000" stroke-width="1.3"/>
<circle cx="146.00" cy="70.50" r="2.5" fill="#fff" stroke="#ff0000" stroke-width="1.3"/>
<circle cx="168.50" cy="72.00" r="2.5" fill="#fff" stroke="#ff0000" stroke-width="1.3"/>
<circle cx="190.50" cy="73.00" r="2.5" fill="#fff" stroke="#ff0000" stroke-width="1.3"/>
<circle cx="214.50" cy="64.00" r="2.5" fill="#fff" stroke="#ff0000" stroke-width="1.3"/>
<circle cx="239.50" cy="60.50" r="2.5" fill="#fff" stroke="#ff0000" stroke-width="1.3"/>
<circle cx="272.00" cy="82.75" r="2.5" fill="#fff" stroke="#ff0000" stroke-width="1.3"/>
<circle cx="295.00" cy="82.00" r="2.5" fill="#fff" stroke="#ff0000" stroke-width="1.3"/>
<circle cx="317.50" cy="87.00" r="2.5" fill="#fff" stroke="#ff0000" stroke-width="1.3"/>
<circle cx="340.50" cy="87.00" r="2.5" fill="#fff" stroke="#ff0000" stroke-width="1.3"/>
<circle cx="364.00" cy="88.00" r="2.5" fill="#fff" stroke="#ff0000" stroke-width="1.3"/>
<circle cx="386.00" cy="75.00" r="2.5" fill="#fff" stroke="#ff0000" stroke-width="1.3"/>
<circle cx="408.50" cy="60.50" r="2.5" fill="#fff" stroke="#ff0000" stroke-width="1.3"/>
<circle cx="433.50" cy="60.00" r="2.5" fill="#fff" stroke="#ff0000" stroke-width="1.3"/>
<circle cx="467.75" cy="71.50" r="2.5" fill="#fff" stroke="#ff0000" stroke-width="1.3"/>
<circle cx="489.40" cy="70.60" r="2.5" fill="#fff" stroke="#ff0000" stroke-width="1.3"/>
<circle cx="512.50" cy="71.90" r="2.5" fill="#fff" stroke="#ff0000" stroke-width="1.3"/>
<circle cx="534.40" cy="72.50" r="2.5" fill="#fff" stroke="#ff0000" stroke-width="1.3"/>
<circle cx="557.00" cy="62.50" r="2.5" fill="#fff" stroke="#ff0000" stroke-width="1.3"/>
<circle cx="579.50" cy="60.50" r="2.5" fill="#fff" stroke="#ff0000" stroke-width="1.3"/>
<circle cx="602.25" cy="60.50" r="2.5" fill="#fff" stroke="#ff0000" stroke-width="1.3"/>
<circle cx="627.25" cy="60.50" r="2.5" fill="#fff" stroke="#ff0000" stroke-width="1.3"/>
<circle cx="658.75" cy="63.75" r="2.5" fill="#fff" stroke="#ff0000" stroke-width="1.3"/>
<circle cx="681.90" cy="64.75" r="2.5" fill="#fff" stroke="#ff0000" stroke-width="1.3"/>
<circle cx="704.40" cy="63.75" r="2.5" fill="#fff" stroke="#ff0000" stroke-width="1.3"/>
<circle cx="726.25" cy="60.50" r="2.5" fill="#fff" stroke="#ff0000" stroke-width="1.3"/>
<circle cx="749.40" cy="60.50" r="2.5" fill="#fff" stroke="#ff0000" stroke-width="1.3"/>
<circle cx="771.25" cy="60.50" r="2.5" fill="#fff" stroke="#ff0000" stroke-width="1.3"/>
<polyline points="30.00,63.50 77.50,63.00 100.50,63.00 122.50,63.00 145.50,62.00 167.50,62.00 190.60,62.00 214.40,62.00 249.00,123.00 270.00,60.00 292.50,60.00 315.50,60.00 337.50,60.00 360.50,62.00 384.50,62.00 421.00,148.75 445.00,136.90 466.90,68.00 489.40,66.00 511.25,65.60 533.10,65.25 557.50,66.25 591.25,137.50 613.50,137.50 636.50,123.75 658.75,60.50 681.50,60.50 703.75,60.50 728.50,70.00 756.90,110.60 779.40,110.00" fill="none" stroke="#cc44ff" stroke-width="2.6" stroke-linejoin="round" stroke-linecap="round"/>
<circle cx="77.50" cy="63.00" r="2.5" fill="#fff" stroke="#cc44ff" stroke-width="1.3"/>
<circle cx="100.50" cy="63.00" r="2.5" fill="#fff" stroke="#cc44ff" stroke-width="1.3"/>
<circle cx="122.50" cy="63.00" r="2.5" fill="#fff" stroke="#cc44ff" stroke-width="1.3"/>
<circle cx="145.50" cy="62.00" r="2.5" fill="#fff" stroke="#cc44ff" stroke-width="1.3"/>
<circle cx="167.50" cy="62.00" r="2.5" fill="#fff" stroke="#cc44ff" stroke-width="1.3"/>
<circle cx="190.60" cy="62.00" r="2.5" fill="#fff" stroke="#cc44ff" stroke-width="1.3"/>
<circle cx="214.40" cy="62.00" r="2.5" fill="#fff" stroke="#cc44ff" stroke-width="1.3"/>
<circle cx="249.00" cy="123.00" r="2.5" fill="#fff" stroke="#cc44ff" stroke-width="1.3"/>
<circle cx="270.00" cy="60.00" r="2.5" fill="#fff" stroke="#cc44ff" stroke-width="1.3"/>
<circle cx="292.50" cy="60.00" r="2.5" fill="#fff" stroke="#cc44ff" stroke-width="1.3"/>
<circle cx="315.50" cy="60.00" r="2.5" fill="#fff" stroke="#cc44ff" stroke-width="1.3"/>
<circle cx="337.50" cy="60.00" r="2.5" fill="#fff" stroke="#cc44ff" stroke-width="1.3"/>
<circle cx="360.50" cy="62.00" r="2.5" fill="#fff" stroke="#cc44ff" stroke-width="1.3"/>
<circle cx="384.50" cy="62.00" r="2.5" fill="#fff" stroke="#cc44ff" stroke-width="1.3"/>
<circle cx="421.00" cy="148.75" r="2.5" fill="#fff" stroke="#cc44ff" stroke-width="1.3"/>
<circle cx="445.00" cy="136.90" r="2.5" fill="#fff" stroke="#cc44ff" stroke-width="1.3"/>
<circle cx="466.90" cy="68.00" r="2.5" fill="#fff" stroke="#cc44ff" stroke-width="1.3"/>
<circle cx="489.40" cy="66.00" r="2.5" fill="#fff" stroke="#cc44ff" stroke-width="1.3"/>
<circle cx="511.25" cy="65.60" r="2.5" fill="#fff" stroke="#cc44ff" stroke-width="1.3"/>
<circle cx="533.10" cy="65.25" r="2.5" fill="#fff" stroke="#cc44ff" stroke-width="1.3"/>
<circle cx="557.50" cy="66.25" r="2.5" fill="#fff" stroke="#cc44ff" stroke-width="1.3"/>
<circle cx="591.25" cy="137.50" r="2.5" fill="#fff" stroke="#cc44ff" stroke-width="1.3"/>
<circle cx="613.50" cy="137.50" r="2.5" fill="#fff" stroke="#cc44ff" stroke-width="1.3"/>
<circle cx="636.50" cy="123.75" r="2.5" fill="#fff" stroke="#cc44ff" stroke-width="1.3"/>
<circle cx="658.75" cy="60.50" r="2.5" fill="#fff" stroke="#cc44ff" stroke-width="1.3"/>
<circle cx="681.50" cy="60.50" r="2.5" fill="#fff" stroke="#cc44ff" stroke-width="1.3"/>
<circle cx="703.75" cy="60.50" r="2.5" fill="#fff" stroke="#cc44ff" stroke-width="1.3"/>
<circle cx="728.50" cy="70.00" r="2.5" fill="#fff" stroke="#cc44ff" stroke-width="1.3"/>
<circle cx="756.90" cy="110.60" r="2.5" fill="#fff" stroke="#cc44ff" stroke-width="1.3"/>
<circle cx="779.40" cy="110.00" r="2.5" fill="#fff" stroke="#cc44ff" stroke-width="1.3"/>
<polyline points="30.00,63.50 77.50,63.20 100.50,62.30 122.50,62.30 145.25,60.00 167.50,60.00 190.60,60.00 214.40,60.00 248.00,123.50 270.00,62.00 292.50,62.00 315.50,62.00 337.50,62.00 360.50,60.00 384.50,60.00 421.00,146.00 443.75,133.75 468.00,64.40 490.00,75.00 512.50,74.75 534.40,73.10 559.40,75.00 592.50,147.50 615.60,147.25 637.50,132.50 659.40,67.50 682.00,66.50 705.00,65.50 728.50,76.25 757.50,116.90 779.40,114.00" fill="none" stroke="#ff88bb" stroke-width="2.6" stroke-linejoin="round" stroke-linecap="round"/>
<circle cx="77.50" cy="63.20" r="2.5" fill="#fff" stroke="#ff88bb" stroke-width="1.3"/>
<circle cx="100.50" cy="62.30" r="2.5" fill="#fff" stroke="#ff88bb" stroke-width="1.3"/>
<circle cx="122.50" cy="62.30" r="2.5" fill="#fff" stroke="#ff88bb" stroke-width="1.3"/>
<circle cx="145.25" cy="60.00" r="2.5" fill="#fff" stroke="#ff88bb" stroke-width="1.3"/>
<circle cx="167.50" cy="60.00" r="2.5" fill="#fff" stroke="#ff88bb" stroke-width="1.3"/>
<circle cx="190.60" cy="60.00" r="2.5" fill="#fff" stroke="#ff88bb" stroke-width="1.3"/>
<circle cx="214.40" cy="60.00" r="2.5" fill="#fff" stroke="#ff88bb" stroke-width="1.3"/>
<circle cx="248.00" cy="123.50" r="2.5" fill="#fff" stroke="#ff88bb" stroke-width="1.3"/>
<circle cx="270.00" cy="62.00" r="2.5" fill="#fff" stroke="#ff88bb" stroke-width="1.3"/>
<circle cx="292.50" cy="62.00" r="2.5" fill="#fff" stroke="#ff88bb" stroke-width="1.3"/>
<circle cx="315.50" cy="62.00" r="2.5" fill="#fff" stroke="#ff88bb" stroke-width="1.3"/>
<circle cx="337.50" cy="62.00" r="2.5" fill="#fff" stroke="#ff88bb" stroke-width="1.3"/>
<circle cx="360.50" cy="60.00" r="2.5" fill="#fff" stroke="#ff88bb" stroke-width="1.3"/>
<circle cx="384.50" cy="60.00" r="2.5" fill="#fff" stroke="#ff88bb" stroke-width="1.3"/>
<circle cx="421.00" cy="146.00" r="2.5" fill="#fff" stroke="#ff88bb" stroke-width="1.3"/>
<circle cx="443.75" cy="133.75" r="2.5" fill="#fff" stroke="#ff88bb" stroke-width="1.3"/>
<circle cx="468.00" cy="64.40" r="2.5" fill="#fff" stroke="#ff88bb" stroke-width="1.3"/>
<circle cx="490.00" cy="75.00" r="2.5" fill="#fff" stroke="#ff88bb" stroke-width="1.3"/>
<circle cx="512.50" cy="74.75" r="2.5" fill="#fff" stroke="#ff88bb" stroke-width="1.3"/>
<circle cx="534.40" cy="73.10" r="2.5" fill="#fff" stroke="#ff88bb" stroke-width="1.3"/>
<circle cx="559.40" cy="75.00" r="2.5" fill="#fff" stroke="#ff88bb" stroke-width="1.3"/>
<circle cx="592.50" cy="147.50" r="2.5" fill="#fff" stroke="#ff88bb" stroke-width="1.3"/>
<circle cx="615.60" cy="147.25" r="2.5" fill="#fff" stroke="#ff88bb" stroke-width="1.3"/>
<circle cx="637.50" cy="132.50" r="2.5" fill="#fff" stroke="#ff88bb" stroke-width="1.3"/>
<circle cx="659.40" cy="67.50" r="2.5" fill="#fff" stroke="#ff88bb" stroke-width="1.3"/>
<circle cx="682.00" cy="66.50" r="2.5" fill="#fff" stroke="#ff88bb" stroke-width="1.3"/>
<circle cx="705.00" cy="65.50" r="2.5" fill="#fff" stroke="#ff88bb" stroke-width="1.3"/>
<circle cx="728.50" cy="76.25" r="2.5" fill="#fff" stroke="#ff88bb" stroke-width="1.3"/>
<circle cx="757.50" cy="116.90" r="2.5" fill="#fff" stroke="#ff88bb" stroke-width="1.3"/>
<circle cx="779.40" cy="114.00" r="2.5" fill="#fff" stroke="#ff88bb" stroke-width="1.3"/>
<polyline points="30.00,62.70 78.00,63.00 101.00,64.00 124.00,64.50 146.25,64.40 168.10,64.75 190.60,64.40 221.90,121.25 248.00,125.60 271.50,66.00 293.50,65.25 315.60,63.10 338.00,66.25 361.25,65.60 393.75,132.50 420.00,141.00 443.75,130.00 465.60,61.00 488.50,60.50 510.60,60.50 533.50,60.50 566.00,128.00 593.75,153.50 615.60,154.00 638.50,140.00 660.60,73.10 682.50,71.90 705.40,69.75 733.10,107.50 759.40,129.40 782.50,130.25" fill="none" stroke="#2a8c2a" stroke-width="2.6" stroke-linejoin="round" stroke-linecap="round"/>
<circle cx="78.00" cy="63.00" r="2.5" fill="#fff" stroke="#2a8c2a" stroke-width="1.3"/>
<circle cx="101.00" cy="64.00" r="2.5" fill="#fff" stroke="#2a8c2a" stroke-width="1.3"/>
<circle cx="124.00" cy="64.50" r="2.5" fill="#fff" stroke="#2a8c2a" stroke-width="1.3"/>
<circle cx="146.25" cy="64.40" r="2.5" fill="#fff" stroke="#2a8c2a" stroke-width="1.3"/>
<circle cx="168.10" cy="64.75" r="2.5" fill="#fff" stroke="#2a8c2a" stroke-width="1.3"/>
<circle cx="190.60" cy="64.40" r="2.5" fill="#fff" stroke="#2a8c2a" stroke-width="1.3"/>
<circle cx="221.90" cy="121.25" r="2.5" fill="#fff" stroke="#2a8c2a" stroke-width="1.3"/>
<circle cx="248.00" cy="125.60" r="2.5" fill="#fff" stroke="#2a8c2a" stroke-width="1.3"/>
<circle cx="271.50" cy="66.00" r="2.5" fill="#fff" stroke="#2a8c2a" stroke-width="1.3"/>
<circle cx="293.50" cy="65.25" r="2.5" fill="#fff" stroke="#2a8c2a" stroke-width="1.3"/>
<circle cx="315.60" cy="63.10" r="2.5" fill="#fff" stroke="#2a8c2a" stroke-width="1.3"/>
<circle cx="338.00" cy="66.25" r="2.5" fill="#fff" stroke="#2a8c2a" stroke-width="1.3"/>
<circle cx="361.25" cy="65.60" r="2.5" fill="#fff" stroke="#2a8c2a" stroke-width="1.3"/>
<circle cx="393.75" cy="132.50" r="2.5" fill="#fff" stroke="#2a8c2a" stroke-width="1.3"/>
<circle cx="420.00" cy="141.00" r="2.5" fill="#fff" stroke="#2a8c2a" stroke-width="1.3"/>
<circle cx="443.75" cy="130.00" r="2.5" fill="#fff" stroke="#2a8c2a" stroke-width="1.3"/>
<circle cx="465.60" cy="61.00" r="2.5" fill="#fff" stroke="#2a8c2a" stroke-width="1.3"/>
<circle cx="488.50" cy="60.50" r="2.5" fill="#fff" stroke="#2a8c2a" stroke-width="1.3"/>
<circle cx="510.60" cy="60.50" r="2.5" fill="#fff" stroke="#2a8c2a" stroke-width="1.3"/>
<circle cx="533.50" cy="60.50" r="2.5" fill="#fff" stroke="#2a8c2a" stroke-width="1.3"/>
<circle cx="566.00" cy="128.00" r="2.5" fill="#fff" stroke="#2a8c2a" stroke-width="1.3"/>
<circle cx="593.75" cy="153.50" r="2.5" fill="#fff" stroke="#2a8c2a" stroke-width="1.3"/>
<circle cx="615.60" cy="154.00" r="2.5" fill="#fff" stroke="#2a8c2a" stroke-width="1.3"/>
<circle cx="638.50" cy="140.00" r="2.5" fill="#fff" stroke="#2a8c2a" stroke-width="1.3"/>
<circle cx="660.60" cy="73.10" r="2.5" fill="#fff" stroke="#2a8c2a" stroke-width="1.3"/>
<circle cx="682.50" cy="71.90" r="2.5" fill="#fff" stroke="#2a8c2a" stroke-width="1.3"/>
<circle cx="705.40" cy="69.75" r="2.5" fill="#fff" stroke="#2a8c2a" stroke-width="1.3"/>
<circle cx="733.10" cy="107.50" r="2.5" fill="#fff" stroke="#2a8c2a" stroke-width="1.3"/>
<circle cx="759.40" cy="129.40" r="2.5" fill="#fff" stroke="#2a8c2a" stroke-width="1.3"/>
<circle cx="782.50" cy="130.25" r="2.5" fill="#fff" stroke="#2a8c2a" stroke-width="1.3"/>
<polyline points="30.00,61.00 77.50,60.30 100.50,60.30 122.50,60.30 147.50,75.00 169.50,76.50 192.50,77.00 224.40,132.25 250.00,142.00 274.40,85.25 296.50,85.60 319.60,86.25 341.50,86.25 364.40,88.75 398.00,156.00 423.75,168.75 446.00,155.00 469.40,88.00 491.25,83.00 513.75,81.25 536.50,80.60 567.50,136.50 593.75,156.25 620.60,187.50 646.90,196.25 669.75,133.75 692.50,137.00 714.75,138.10 737.50,136.25 760.25,138.10 783.50,136.90" fill="none" stroke="#1f9bff" stroke-width="2.6" stroke-linejoin="round" stroke-linecap="round"/>
<circle cx="77.50" cy="60.30" r="2.5" fill="#fff" stroke="#1f9bff" stroke-width="1.3"/>
<circle cx="100.50" cy="60.30" r="2.5" fill="#fff" stroke="#1f9bff" stroke-width="1.3"/>
<circle cx="122.50" cy="60.30" r="2.5" fill="#fff" stroke="#1f9bff" stroke-width="1.3"/>
<circle cx="147.50" cy="75.00" r="2.5" fill="#fff" stroke="#1f9bff" stroke-width="1.3"/>
<circle cx="169.50" cy="76.50" r="2.5" fill="#fff" stroke="#1f9bff" stroke-width="1.3"/>
<circle cx="192.50" cy="77.00" r="2.5" fill="#fff" stroke="#1f9bff" stroke-width="1.3"/>
<circle cx="224.40" cy="132.25" r="2.5" fill="#fff" stroke="#1f9bff" stroke-width="1.3"/>
<circle cx="250.00" cy="142.00" r="2.5" fill="#fff" stroke="#1f9bff" stroke-width="1.3"/>
<circle cx="274.40" cy="85.25" r="2.5" fill="#fff" stroke="#1f9bff" stroke-width="1.3"/>
<circle cx="296.50" cy="85.60" r="2.5" fill="#fff" stroke="#1f9bff" stroke-width="1.3"/>
<circle cx="319.60" cy="86.25" r="2.5" fill="#fff" stroke="#1f9bff" stroke-width="1.3"/>
<circle cx="341.50" cy="86.25" r="2.5" fill="#fff" stroke="#1f9bff" stroke-width="1.3"/>
<circle cx="364.40" cy="88.75" r="2.5" fill="#fff" stroke="#1f9bff" stroke-width="1.3"/>
<circle cx="398.00" cy="156.00" r="2.5" fill="#fff" stroke="#1f9bff" stroke-width="1.3"/>
<circle cx="423.75" cy="168.75" r="2.5" fill="#fff" stroke="#1f9bff" stroke-width="1.3"/>
<circle cx="446.00" cy="155.00" r="2.5" fill="#fff" stroke="#1f9bff" stroke-width="1.3"/>
<circle cx="469.40" cy="88.00" r="2.5" fill="#fff" stroke="#1f9bff" stroke-width="1.3"/>
<circle cx="491.25" cy="83.00" r="2.5" fill="#fff" stroke="#1f9bff" stroke-width="1.3"/>
<circle cx="513.75" cy="81.25" r="2.5" fill="#fff" stroke="#1f9bff" stroke-width="1.3"/>
<circle cx="536.50" cy="80.60" r="2.5" fill="#fff" stroke="#1f9bff" stroke-width="1.3"/>
<circle cx="567.50" cy="136.50" r="2.5" fill="#fff" stroke="#1f9bff" stroke-width="1.3"/>
<circle cx="593.75" cy="156.25" r="2.5" fill="#fff" stroke="#1f9bff" stroke-width="1.3"/>
<circle cx="620.60" cy="187.50" r="2.5" fill="#fff" stroke="#1f9bff" stroke-width="1.3"/>
<circle cx="646.90" cy="196.25" r="2.5" fill="#fff" stroke="#1f9bff" stroke-width="1.3"/>
<circle cx="669.75" cy="133.75" r="2.5" fill="#fff" stroke="#1f9bff" stroke-width="1.3"/>
<circle cx="692.50" cy="137.00" r="2.5" fill="#fff" stroke="#1f9bff" stroke-width="1.3"/>
<circle cx="714.75" cy="138.10" r="2.5" fill="#fff" stroke="#1f9bff" stroke-width="1.3"/>
<circle cx="737.50" cy="136.25" r="2.5" fill="#fff" stroke="#1f9bff" stroke-width="1.3"/>
<circle cx="760.25" cy="138.10" r="2.5" fill="#fff" stroke="#1f9bff" stroke-width="1.3"/>
<circle cx="783.50" cy="136.90" r="2.5" fill="#fff" stroke="#1f9bff" stroke-width="1.3"/>
<polyline points="30.00,71.10 79.50,71.50 101.00,75.00 125.00,80.00 149.00,84.00 171.25,87.50 193.10,86.90 218.10,88.50 252.50,152.75 275.60,93.00 297.50,93.75 320.00,94.00 342.50,94.40 365.60,95.00 389.40,95.25 424.40,165.00 446.25,153.00 469.60,84.40 491.50,84.75 514.40,84.40 536.25,85.60 560.60,88.75 595.00,168.10 618.10,171.50 641.25,162.00 664.50,102.00 687.00,106.00 711.50,114.40 735.60,119.40 759.75,134.40 789.70,178.90" fill="none" stroke="#dddd00" stroke-width="2.6" stroke-linejoin="round" stroke-linecap="round"/>
<circle cx="79.50" cy="71.50" r="2.5" fill="#fff" stroke="#dddd00" stroke-width="1.3"/>
<circle cx="101.00" cy="75.00" r="2.5" fill="#fff" stroke="#dddd00" stroke-width="1.3"/>
<circle cx="125.00" cy="80.00" r="2.5" fill="#fff" stroke="#dddd00" stroke-width="1.3"/>
<circle cx="149.00" cy="84.00" r="2.5" fill="#fff" stroke="#dddd00" stroke-width="1.3"/>
<circle cx="171.25" cy="87.50" r="2.5" fill="#fff" stroke="#dddd00" stroke-width="1.3"/>
<circle cx="193.10" cy="86.90" r="2.5" fill="#fff" stroke="#dddd00" stroke-width="1.3"/>
<circle cx="218.10" cy="88.50" r="2.5" fill="#fff" stroke="#dddd00" stroke-width="1.3"/>
<circle cx="252.50" cy="152.75" r="2.5" fill="#fff" stroke="#dddd00" stroke-width="1.3"/>
<circle cx="275.60" cy="93.00" r="2.5" fill="#fff" stroke="#dddd00" stroke-width="1.3"/>
<circle cx="297.50" cy="93.75" r="2.5" fill="#fff" stroke="#dddd00" stroke-width="1.3"/>
<circle cx="320.00" cy="94.00" r="2.5" fill="#fff" stroke="#dddd00" stroke-width="1.3"/>
<circle cx="342.50" cy="94.40" r="2.5" fill="#fff" stroke="#dddd00" stroke-width="1.3"/>
<circle cx="365.60" cy="95.00" r="2.5" fill="#fff" stroke="#dddd00" stroke-width="1.3"/>
<circle cx="389.40" cy="95.25" r="2.5" fill="#fff" stroke="#dddd00" stroke-width="1.3"/>
<circle cx="424.40" cy="165.00" r="2.5" fill="#fff" stroke="#dddd00" stroke-width="1.3"/>
<circle cx="446.25" cy="153.00" r="2.5" fill="#fff" stroke="#dddd00" stroke-width="1.3"/>
<circle cx="469.60" cy="84.40" r="2.5" fill="#fff" stroke="#dddd00" stroke-width="1.3"/>
<circle cx="491.50" cy="84.75" r="2.5" fill="#fff" stroke="#dddd00" stroke-width="1.3"/>
<circle cx="514.40" cy="84.40" r="2.5" fill="#fff" stroke="#dddd00" stroke-width="1.3"/>
<circle cx="536.25" cy="85.60" r="2.5" fill="#fff" stroke="#dddd00" stroke-width="1.3"/>
<circle cx="560.60" cy="88.75" r="2.5" fill="#fff" stroke="#dddd00" stroke-width="1.3"/>
<circle cx="595.00" cy="168.10" r="2.5" fill="#fff" stroke="#dddd00" stroke-width="1.3"/>
<circle cx="618.10" cy="171.50" r="2.5" fill="#fff" stroke="#dddd00" stroke-width="1.3"/>
<circle cx="641.25" cy="162.00" r="2.5" fill="#fff" stroke="#dddd00" stroke-width="1.3"/>
<circle cx="664.50" cy="102.00" r="2.5" fill="#fff" stroke="#dddd00" stroke-width="1.3"/>
<circle cx="687.00" cy="106.00" r="2.5" fill="#fff" stroke="#dddd00" stroke-width="1.3"/>
<circle cx="711.50" cy="114.40" r="2.5" fill="#fff" stroke="#dddd00" stroke-width="1.3"/>
<circle cx="735.60" cy="119.40" r="2.5" fill="#fff" stroke="#dddd00" stroke-width="1.3"/>
<circle cx="759.75" cy="134.40" r="2.5" fill="#fff" stroke="#dddd00" stroke-width="1.3"/>
<circle cx="789.70" cy="178.90" r="2.5" fill="#fff" stroke="#dddd00" stroke-width="1.3"/>
<polyline points="30.00,66.00 78.00,68.00 101.00,72.00 125.00,78.00 151.00,85.00 171.50,89.50 195.00,100.00 228.50,161.25 252.50,146.25 274.40,88.00 297.50,89.00 319.75,91.25 342.50,93.10 367.50,106.25 403.00,192.50 426.25,181.25 450.00,170.60 475.00,121.00 507.50,193.75 530.00,196.90 553.00,200.00 575.60,190.60 598.75,190.00 621.25,190.25 645.60,188.75 678.40,197.60 701.50,199.40 724.40,201.10 746.30,201.10 771.20,214.60 794.50,213.40" fill="none" stroke="#999999" stroke-width="2.6" stroke-linejoin="round" stroke-linecap="round"/>
<circle cx="78.00" cy="68.00" r="2.5" fill="#fff" stroke="#999999" stroke-width="1.3"/>
<circle cx="101.00" cy="72.00" r="2.5" fill="#fff" stroke="#999999" stroke-width="1.3"/>
<circle cx="125.00" cy="78.00" r="2.5" fill="#fff" stroke="#999999" stroke-width="1.3"/>
<circle cx="151.00" cy="85.00" r="2.5" fill="#fff" stroke="#999999" stroke-width="1.3"/>
<circle cx="171.50" cy="89.50" r="2.5" fill="#fff" stroke="#999999" stroke-width="1.3"/>
<circle cx="195.00" cy="100.00" r="2.5" fill="#fff" stroke="#999999" stroke-width="1.3"/>
<circle cx="228.50" cy="161.25" r="2.5" fill="#fff" stroke="#999999" stroke-width="1.3"/>
<circle cx="252.50" cy="146.25" r="2.5" fill="#fff" stroke="#999999" stroke-width="1.3"/>
<circle cx="274.40" cy="88.00" r="2.5" fill="#fff" stroke="#999999" stroke-width="1.3"/>
<circle cx="297.50" cy="89.00" r="2.5" fill="#fff" stroke="#999999" stroke-width="1.3"/>
<circle cx="319.75" cy="91.25" r="2.5" fill="#fff" stroke="#999999" stroke-width="1.3"/>
<circle cx="342.50" cy="93.10" r="2.5" fill="#fff" stroke="#999999" stroke-width="1.3"/>
<circle cx="367.50" cy="106.25" r="2.5" fill="#fff" stroke="#999999" stroke-width="1.3"/>
<circle cx="403.00" cy="192.50" r="2.5" fill="#fff" stroke="#999999" stroke-width="1.3"/>
<circle cx="426.25" cy="181.25" r="2.5" fill="#fff" stroke="#999999" stroke-width="1.3"/>
<circle cx="450.00" cy="170.60" r="2.5" fill="#fff" stroke="#999999" stroke-width="1.3"/>
<circle cx="475.00" cy="121.00" r="2.5" fill="#fff" stroke="#999999" stroke-width="1.3"/>
<circle cx="507.50" cy="193.75" r="2.5" fill="#fff" stroke="#999999" stroke-width="1.3"/>
<circle cx="530.00" cy="196.90" r="2.5" fill="#fff" stroke="#999999" stroke-width="1.3"/>
<circle cx="553.00" cy="200.00" r="2.5" fill="#fff" stroke="#999999" stroke-width="1.3"/>
<circle cx="575.60" cy="190.60" r="2.5" fill="#fff" stroke="#999999" stroke-width="1.3"/>
<circle cx="598.75" cy="190.00" r="2.5" fill="#fff" stroke="#999999" stroke-width="1.3"/>
<circle cx="621.25" cy="190.25" r="2.5" fill="#fff" stroke="#999999" stroke-width="1.3"/>
<circle cx="645.60" cy="188.75" r="2.5" fill="#fff" stroke="#999999" stroke-width="1.3"/>
<circle cx="678.40" cy="197.60" r="2.5" fill="#fff" stroke="#999999" stroke-width="1.3"/>
<circle cx="701.50" cy="199.40" r="2.5" fill="#fff" stroke="#999999" stroke-width="1.3"/>
<circle cx="724.40" cy="201.10" r="2.5" fill="#fff" stroke="#999999" stroke-width="1.3"/>
<circle cx="746.30" cy="201.10" r="2.5" fill="#fff" stroke="#999999" stroke-width="1.3"/>
<circle cx="771.20" cy="214.60" r="2.5" fill="#fff" stroke="#999999" stroke-width="1.3"/>
<circle cx="794.50" cy="213.40" r="2.5" fill="#fff" stroke="#999999" stroke-width="1.3"/>
<polyline points="30.00,74.00 80.00,79.00 104.50,86.00 127.00,91.50 150.50,94.00 173.00,102.00 198.00,108.00 221.00,112.00 246.25,113.75 281.50,139.50 305.00,142.50 328.00,148.00 351.50,156.90 373.75,160.00 397.50,150.60 421.25,143.75 446.25,150.00 481.00,166.00 504.40,174.40 528.10,181.90 551.25,190.00 574.40,186.00 598.50,186.90 623.75,203.10 655.50,256.25 679.60,202.90 702.40,209.90 725.10,213.90 750.20,223.40 773.80,227.40" fill="none" stroke="#3cc8d0" stroke-width="2.6" stroke-linejoin="round" stroke-linecap="round"/>
<circle cx="80.00" cy="79.00" r="2.5" fill="#fff" stroke="#3cc8d0" stroke-width="1.3"/>
<circle cx="104.50" cy="86.00" r="2.5" fill="#fff" stroke="#3cc8d0" stroke-width="1.3"/>
<circle cx="127.00" cy="91.50" r="2.5" fill="#fff" stroke="#3cc8d0" stroke-width="1.3"/>
<circle cx="150.50" cy="94.00" r="2.5" fill="#fff" stroke="#3cc8d0" stroke-width="1.3"/>
<circle cx="173.00" cy="102.00" r="2.5" fill="#fff" stroke="#3cc8d0" stroke-width="1.3"/>
<circle cx="198.00" cy="108.00" r="2.5" fill="#fff" stroke="#3cc8d0" stroke-width="1.3"/>
<circle cx="221.00" cy="112.00" r="2.5" fill="#fff" stroke="#3cc8d0" stroke-width="1.3"/>
<circle cx="246.25" cy="113.75" r="2.5" fill="#fff" stroke="#3cc8d0" stroke-width="1.3"/>
<circle cx="281.50" cy="139.50" r="2.5" fill="#fff" stroke="#3cc8d0" stroke-width="1.3"/>
<circle cx="305.00" cy="142.50" r="2.5" fill="#fff" stroke="#3cc8d0" stroke-width="1.3"/>
<circle cx="328.00" cy="148.00" r="2.5" fill="#fff" stroke="#3cc8d0" stroke-width="1.3"/>
<circle cx="351.50" cy="156.90" r="2.5" fill="#fff" stroke="#3cc8d0" stroke-width="1.3"/>
<circle cx="373.75" cy="160.00" r="2.5" fill="#fff" stroke="#3cc8d0" stroke-width="1.3"/>
<circle cx="397.50" cy="150.60" r="2.5" fill="#fff" stroke="#3cc8d0" stroke-width="1.3"/>
<circle cx="421.25" cy="143.75" r="2.5" fill="#fff" stroke="#3cc8d0" stroke-width="1.3"/>
<circle cx="446.25" cy="150.00" r="2.5" fill="#fff" stroke="#3cc8d0" stroke-width="1.3"/>
<circle cx="481.00" cy="166.00" r="2.5" fill="#fff" stroke="#3cc8d0" stroke-width="1.3"/>
<circle cx="504.40" cy="174.40" r="2.5" fill="#fff" stroke="#3cc8d0" stroke-width="1.3"/>
<circle cx="528.10" cy="181.90" r="2.5" fill="#fff" stroke="#3cc8d0" stroke-width="1.3"/>
<circle cx="551.25" cy="190.00" r="2.5" fill="#fff" stroke="#3cc8d0" stroke-width="1.3"/>
<circle cx="574.40" cy="186.00" r="2.5" fill="#fff" stroke="#3cc8d0" stroke-width="1.3"/>
<circle cx="598.50" cy="186.90" r="2.5" fill="#fff" stroke="#3cc8d0" stroke-width="1.3"/>
<circle cx="623.75" cy="203.10" r="2.5" fill="#fff" stroke="#3cc8d0" stroke-width="1.3"/>
<circle cx="655.50" cy="256.25" r="2.5" fill="#fff" stroke="#3cc8d0" stroke-width="1.3"/>
<circle cx="679.60" cy="202.90" r="2.5" fill="#fff" stroke="#3cc8d0" stroke-width="1.3"/>
<circle cx="702.40" cy="209.90" r="2.5" fill="#fff" stroke="#3cc8d0" stroke-width="1.3"/>
<circle cx="725.10" cy="213.90" r="2.5" fill="#fff" stroke="#3cc8d0" stroke-width="1.3"/>
<circle cx="750.20" cy="223.40" r="2.5" fill="#fff" stroke="#3cc8d0" stroke-width="1.3"/>
<circle cx="773.80" cy="227.40" r="2.5" fill="#fff" stroke="#3cc8d0" stroke-width="1.3"/>
<polyline points="30.00,70.00 80.00,76.00 104.00,84.00 127.00,90.00 150.00,92.00 174.00,108.00 197.50,115.60 233.75,191.75 259.25,200.75 282.50,143.10 305.00,144.40 328.75,147.50 351.50,152.50 374.75,156.00 408.50,227.50 434.40,240.00 457.50,231.25 481.50,167.50 504.40,171.00 527.50,175.00 550.60,180.25 588.25,277.00 614.50,298.75 636.25,300.00 659.50,287.00 682.40,226.20 705.50,230.00 728.70,232.30 752.50,242.30 777.70,253.10" fill="none" stroke="#7a7436" stroke-width="2.6" stroke-linejoin="round" stroke-linecap="round"/>
<circle cx="80.00" cy="76.00" r="2.5" fill="#fff" stroke="#7a7436" stroke-width="1.3"/>
<circle cx="104.00" cy="84.00" r="2.5" fill="#fff" stroke="#7a7436" stroke-width="1.3"/>
<circle cx="127.00" cy="90.00" r="2.5" fill="#fff" stroke="#7a7436" stroke-width="1.3"/>
<circle cx="150.00" cy="92.00" r="2.5" fill="#fff" stroke="#7a7436" stroke-width="1.3"/>
<circle cx="174.00" cy="108.00" r="2.5" fill="#fff" stroke="#7a7436" stroke-width="1.3"/>
<circle cx="197.50" cy="115.60" r="2.5" fill="#fff" stroke="#7a7436" stroke-width="1.3"/>
<circle cx="233.75" cy="191.75" r="2.5" fill="#fff" stroke="#7a7436" stroke-width="1.3"/>
<circle cx="259.25" cy="200.75" r="2.5" fill="#fff" stroke="#7a7436" stroke-width="1.3"/>
<circle cx="282.50" cy="143.10" r="2.5" fill="#fff" stroke="#7a7436" stroke-width="1.3"/>
<circle cx="305.00" cy="144.40" r="2.5" fill="#fff" stroke="#7a7436" stroke-width="1.3"/>
<circle cx="328.75" cy="147.50" r="2.5" fill="#fff" stroke="#7a7436" stroke-width="1.3"/>
<circle cx="351.50" cy="152.50" r="2.5" fill="#fff" stroke="#7a7436" stroke-width="1.3"/>
<circle cx="374.75" cy="156.00" r="2.5" fill="#fff" stroke="#7a7436" stroke-width="1.3"/>
<circle cx="408.50" cy="227.50" r="2.5" fill="#fff" stroke="#7a7436" stroke-width="1.3"/>
<circle cx="434.40" cy="240.00" r="2.5" fill="#fff" stroke="#7a7436" stroke-width="1.3"/>
<circle cx="457.50" cy="231.25" r="2.5" fill="#fff" stroke="#7a7436" stroke-width="1.3"/>
<circle cx="481.50" cy="167.50" r="2.5" fill="#fff" stroke="#7a7436" stroke-width="1.3"/>
<circle cx="504.40" cy="171.00" r="2.5" fill="#fff" stroke="#7a7436" stroke-width="1.3"/>
<circle cx="527.50" cy="175.00" r="2.5" fill="#fff" stroke="#7a7436" stroke-width="1.3"/>
<circle cx="550.60" cy="180.25" r="2.5" fill="#fff" stroke="#7a7436" stroke-width="1.3"/>
<circle cx="588.25" cy="277.00" r="2.5" fill="#fff" stroke="#7a7436" stroke-width="1.3"/>
<circle cx="614.50" cy="298.75" r="2.5" fill="#fff" stroke="#7a7436" stroke-width="1.3"/>
<circle cx="636.25" cy="300.00" r="2.5" fill="#fff" stroke="#7a7436" stroke-width="1.3"/>
<circle cx="659.50" cy="287.00" r="2.5" fill="#fff" stroke="#7a7436" stroke-width="1.3"/>
<circle cx="682.40" cy="226.20" r="2.5" fill="#fff" stroke="#7a7436" stroke-width="1.3"/>
<circle cx="705.50" cy="230.00" r="2.5" fill="#fff" stroke="#7a7436" stroke-width="1.3"/>
<circle cx="728.70" cy="232.30" r="2.5" fill="#fff" stroke="#7a7436" stroke-width="1.3"/>
<circle cx="752.50" cy="242.30" r="2.5" fill="#fff" stroke="#7a7436" stroke-width="1.3"/>
<circle cx="777.70" cy="253.10" r="2.5" fill="#fff" stroke="#7a7436" stroke-width="1.3"/>
<polyline points="30.00,64.80 77.50,64.40 101.50,66.50 123.50,66.50 146.50,66.00 168.50,68.00 191.25,69.40 215.40,71.90 254.00,165.00 278.50,116.00 301.50,116.50 323.50,117.25 346.90,123.10 369.40,121.90 394.40,128.00 427.50,190.00 450.60,179.40 473.50,118.10 496.50,121.00 519.40,121.90 542.50,124.50 565.60,117.50 590.60,130.60 624.00,211.00 648.50,206.90 671.90,148.75 694.10,153.40 718.60,165.80 746.40,195.10 773.80,227.00" fill="none" stroke="#333333" stroke-width="2.6" stroke-linejoin="round" stroke-linecap="round"/>
<circle cx="77.50" cy="64.40" r="2.5" fill="#fff" stroke="#333333" stroke-width="1.3"/>
<circle cx="101.50" cy="66.50" r="2.5" fill="#fff" stroke="#333333" stroke-width="1.3"/>
<circle cx="123.50" cy="66.50" r="2.5" fill="#fff" stroke="#333333" stroke-width="1.3"/>
<circle cx="146.50" cy="66.00" r="2.5" fill="#fff" stroke="#333333" stroke-width="1.3"/>
<circle cx="168.50" cy="68.00" r="2.5" fill="#fff" stroke="#333333" stroke-width="1.3"/>
<circle cx="191.25" cy="69.40" r="2.5" fill="#fff" stroke="#333333" stroke-width="1.3"/>
<circle cx="215.40" cy="71.90" r="2.5" fill="#fff" stroke="#333333" stroke-width="1.3"/>
<circle cx="254.00" cy="165.00" r="2.5" fill="#fff" stroke="#333333" stroke-width="1.3"/>
<circle cx="278.50" cy="116.00" r="2.5" fill="#fff" stroke="#333333" stroke-width="1.3"/>
<circle cx="301.50" cy="116.50" r="2.5" fill="#fff" stroke="#333333" stroke-width="1.3"/>
<circle cx="323.50" cy="117.25" r="2.5" fill="#fff" stroke="#333333" stroke-width="1.3"/>
<circle cx="346.90" cy="123.10" r="2.5" fill="#fff" stroke="#333333" stroke-width="1.3"/>
<circle cx="369.40" cy="121.90" r="2.5" fill="#fff" stroke="#333333" stroke-width="1.3"/>
<circle cx="394.40" cy="128.00" r="2.5" fill="#fff" stroke="#333333" stroke-width="1.3"/>
<circle cx="427.50" cy="190.00" r="2.5" fill="#fff" stroke="#333333" stroke-width="1.3"/>
<circle cx="450.60" cy="179.40" r="2.5" fill="#fff" stroke="#333333" stroke-width="1.3"/>
<circle cx="473.50" cy="118.10" r="2.5" fill="#fff" stroke="#333333" stroke-width="1.3"/>
<circle cx="496.50" cy="121.00" r="2.5" fill="#fff" stroke="#333333" stroke-width="1.3"/>
<circle cx="519.40" cy="121.90" r="2.5" fill="#fff" stroke="#333333" stroke-width="1.3"/>
<circle cx="542.50" cy="124.50" r="2.5" fill="#fff" stroke="#333333" stroke-width="1.3"/>
<circle cx="565.60" cy="117.50" r="2.5" fill="#fff" stroke="#333333" stroke-width="1.3"/>
<circle cx="590.60" cy="130.60" r="2.5" fill="#fff" stroke="#333333" stroke-width="1.3"/>
<circle cx="624.00" cy="211.00" r="2.5" fill="#fff" stroke="#333333" stroke-width="1.3"/>
<circle cx="648.50" cy="206.90" r="2.5" fill="#fff" stroke="#333333" stroke-width="1.3"/>
<circle cx="671.90" cy="148.75" r="2.5" fill="#fff" stroke="#333333" stroke-width="1.3"/>
<circle cx="694.10" cy="153.40" r="2.5" fill="#fff" stroke="#333333" stroke-width="1.3"/>
<circle cx="718.60" cy="165.80" r="2.5" fill="#fff" stroke="#333333" stroke-width="1.3"/>
<circle cx="746.40" cy="195.10" r="2.5" fill="#fff" stroke="#333333" stroke-width="1.3"/>
<circle cx="773.80" cy="227.00" r="2.5" fill="#fff" stroke="#333333" stroke-width="1.3"/>
<polyline points="30.00,72.00 79.00,73.50 102.50,79.00 126.50,84.50 148.75,92.00 173.50,104.40 197.50,110.60 221.25,108.75 246.25,112.50 283.75,148.50 306.50,154.00 329.75,161.25 353.75,165.25 376.50,174.00 399.40,166.90 423.00,160.00 448.75,166.25 485.60,201.50 509.75,206.25 533.50,219.50 556.25,226.40 580.00,226.25 603.00,227.50 627.50,236.25 653.50,241.25 691.25,284.50 714.50,289.50 737.50,293.75 761.25,301.25 785.50,310.50" fill="none" stroke="#11cc11" stroke-width="2.6" stroke-linejoin="round" stroke-linecap="round"/>
<circle cx="30.00" cy="72.00" r="2.5" fill="#ffee00" stroke="#11cc11" stroke-width="1.3"/>
<circle cx="79.00" cy="73.50" r="2.5" fill="#ffee00" stroke="#11cc11" stroke-width="1.3"/>
<circle cx="102.50" cy="79.00" r="2.5" fill="#ffee00" stroke="#11cc11" stroke-width="1.3"/>
<circle cx="126.50" cy="84.50" r="2.5" fill="#ffee00" stroke="#11cc11" stroke-width="1.3"/>
<circle cx="148.75" cy="92.00" r="2.5" fill="#ffee00" stroke="#11cc11" stroke-width="1.3"/>
<circle cx="173.50" cy="104.40" r="2.5" fill="#ffee00" stroke="#11cc11" stroke-width="1.3"/>
<circle cx="197.50" cy="110.60" r="2.5" fill="#ffee00" stroke="#11cc11" stroke-width="1.3"/>
<circle cx="221.25" cy="108.75" r="2.5" fill="#ffee00" stroke="#11cc11" stroke-width="1.3"/>
<circle cx="246.25" cy="112.50" r="2.5" fill="#ffee00" stroke="#11cc11" stroke-width="1.3"/>
<circle cx="283.75" cy="148.50" r="2.5" fill="#ffee00" stroke="#11cc11" stroke-width="1.3"/>
<circle cx="306.50" cy="154.00" r="2.5" fill="#ffee00" stroke="#11cc11" stroke-width="1.3"/>
<circle cx="329.75" cy="161.25" r="2.5" fill="#ffee00" stroke="#11cc11" stroke-width="1.3"/>
<circle cx="353.75" cy="165.25" r="2.5" fill="#ffee00" stroke="#11cc11" stroke-width="1.3"/>
<circle cx="376.50" cy="174.00" r="2.5" fill="#ffee00" stroke="#11cc11" stroke-width="1.3"/>
<circle cx="399.40" cy="166.90" r="2.5" fill="#ffee00" stroke="#11cc11" stroke-width="1.3"/>
<circle cx="423.00" cy="160.00" r="2.5" fill="#ffee00" stroke="#11cc11" stroke-width="1.3"/>
<circle cx="448.75" cy="166.25" r="2.5" fill="#ffee00" stroke="#11cc11" stroke-width="1.3"/>
<circle cx="485.60" cy="201.50" r="2.5" fill="#ffee00" stroke="#11cc11" stroke-width="1.3"/>
<circle cx="509.75" cy="206.25" r="2.5" fill="#ffee00" stroke="#11cc11" stroke-width="1.3"/>
<circle cx="533.50" cy="219.50" r="2.5" fill="#ffee00" stroke="#11cc11" stroke-width="1.3"/>
<circle cx="556.25" cy="226.40" r="2.5" fill="#ffee00" stroke="#11cc11" stroke-width="1.3"/>
<circle cx="580.00" cy="226.25" r="2.5" fill="#ffee00" stroke="#11cc11" stroke-width="1.3"/>
<circle cx="603.00" cy="227.50" r="2.5" fill="#ffee00" stroke="#11cc11" stroke-width="1.3"/>
<circle cx="627.50" cy="236.25" r="2.5" fill="#ffee00" stroke="#11cc11" stroke-width="1.3"/>
<circle cx="653.50" cy="241.25" r="2.5" fill="#ffee00" stroke="#11cc11" stroke-width="1.3"/>
<circle cx="691.25" cy="284.50" r="2.5" fill="#ffee00" stroke="#11cc11" stroke-width="1.3"/>
<circle cx="714.50" cy="289.50" r="2.5" fill="#ffee00" stroke="#11cc11" stroke-width="1.3"/>
<circle cx="737.50" cy="293.75" r="2.5" fill="#ffee00" stroke="#11cc11" stroke-width="1.3"/>
<circle cx="761.25" cy="301.25" r="2.5" fill="#ffee00" stroke="#11cc11" stroke-width="1.3"/>
<circle cx="785.50" cy="310.50" r="2.5" fill="#ffee00" stroke="#11cc11" stroke-width="1.3"/>
<polyline points="30.00,73.00 79.00,75.30 102.50,82.00 126.00,88.00 150.00,93.00 175.00,100.00 196.50,102.75 219.40,95.60 254.40,168.10 281.25,136.25 305.60,147.50 328.75,150.60 352.50,161.90 375.25,165.60 398.50,158.50 422.50,152.50 456.25,223.00 483.10,182.25 506.25,188.10 529.40,193.10 553.50,199.00 576.50,195.25 600.60,202.50 623.50,206.90 658.75,275.50 684.50,241.40 708.50,247.00 731.60,251.10 754.50,253.00 777.60,260.00" fill="none" stroke="#ff0000" stroke-width="2.6" stroke-linejoin="round" stroke-linecap="round"/>
<circle cx="30.00" cy="73.00" r="2.5" fill="#ffee00" stroke="#ff0000" stroke-width="1.3"/>
<circle cx="79.00" cy="75.30" r="2.5" fill="#ffee00" stroke="#ff0000" stroke-width="1.3"/>
<circle cx="102.50" cy="82.00" r="2.5" fill="#ffee00" stroke="#ff0000" stroke-width="1.3"/>
<circle cx="126.00" cy="88.00" r="2.5" fill="#ffee00" stroke="#ff0000" stroke-width="1.3"/>
<circle cx="150.00" cy="93.00" r="2.5" fill="#ffee00" stroke="#ff0000" stroke-width="1.3"/>
<circle cx="175.00" cy="100.00" r="2.5" fill="#ffee00" stroke="#ff0000" stroke-width="1.3"/>
<circle cx="196.50" cy="102.75" r="2.5" fill="#ffee00" stroke="#ff0000" stroke-width="1.3"/>
<circle cx="219.40" cy="95.60" r="2.5" fill="#ffee00" stroke="#ff0000" stroke-width="1.3"/>
<circle cx="254.40" cy="168.10" r="2.5" fill="#ffee00" stroke="#ff0000" stroke-width="1.3"/>
<circle cx="281.25" cy="136.25" r="2.5" fill="#ffee00" stroke="#ff0000" stroke-width="1.3"/>
<circle cx="305.60" cy="147.50" r="2.5" fill="#ffee00" stroke="#ff0000" stroke-width="1.3"/>
<circle cx="328.75" cy="150.60" r="2.5" fill="#ffee00" stroke="#ff0000" stroke-width="1.3"/>
<circle cx="352.50" cy="161.90" r="2.5" fill="#ffee00" stroke="#ff0000" stroke-width="1.3"/>
<circle cx="375.25" cy="165.60" r="2.5" fill="#ffee00" stroke="#ff0000" stroke-width="1.3"/>
<circle cx="398.50" cy="158.50" r="2.5" fill="#ffee00" stroke="#ff0000" stroke-width="1.3"/>
<circle cx="422.50" cy="152.50" r="2.5" fill="#ffee00" stroke="#ff0000" stroke-width="1.3"/>
<circle cx="456.25" cy="223.00" r="2.5" fill="#ffee00" stroke="#ff0000" stroke-width="1.3"/>
<circle cx="483.10" cy="182.25" r="2.5" fill="#ffee00" stroke="#ff0000" stroke-width="1.3"/>
<circle cx="506.25" cy="188.10" r="2.5" fill="#ffee00" stroke="#ff0000" stroke-width="1.3"/>
<circle cx="529.40" cy="193.10" r="2.5" fill="#ffee00" stroke="#ff0000" stroke-width="1.3"/>
<circle cx="553.50" cy="199.00" r="2.5" fill="#ffee00" stroke="#ff0000" stroke-width="1.3"/>
<circle cx="576.50" cy="195.25" r="2.5" fill="#ffee00" stroke="#ff0000" stroke-width="1.3"/>
<circle cx="600.60" cy="202.50" r="2.5" fill="#ffee00" stroke="#ff0000" stroke-width="1.3"/>
<circle cx="623.50" cy="206.90" r="2.5" fill="#ffee00" stroke="#ff0000" stroke-width="1.3"/>
<circle cx="658.75" cy="275.50" r="2.5" fill="#ffee00" stroke="#ff0000" stroke-width="1.3"/>
<circle cx="684.50" cy="241.40" r="2.5" fill="#ffee00" stroke="#ff0000" stroke-width="1.3"/>
<circle cx="708.50" cy="247.00" r="2.5" fill="#ffee00" stroke="#ff0000" stroke-width="1.3"/>
<circle cx="731.60" cy="251.10" r="2.5" fill="#ffee00" stroke="#ff0000" stroke-width="1.3"/>
<circle cx="754.50" cy="253.00" r="2.5" fill="#ffee00" stroke="#ff0000" stroke-width="1.3"/>
<circle cx="777.60" cy="260.00" r="2.5" fill="#ffee00" stroke="#ff0000" stroke-width="1.3"/>
<polyline points="30.00,71.10 79.50,71.50 102.50,74.50 125.50,79.00 148.50,84.00 174.40,111.25 197.50,115.60 225.60,137.25 282.50,360.50 307.00,316.00" fill="none" stroke="#c040f0" stroke-width="2.6" stroke-linejoin="round" stroke-linecap="round"/>
<circle cx="30.00" cy="71.10" r="2.5" fill="#ffee00" stroke="#c040f0" stroke-width="1.3"/>
<circle cx="79.50" cy="71.50" r="2.5" fill="#ffee00" stroke="#c040f0" stroke-width="1.3"/>
<circle cx="102.50" cy="74.50" r="2.5" fill="#ffee00" stroke="#c040f0" stroke-width="1.3"/>
<circle cx="125.50" cy="79.00" r="2.5" fill="#ffee00" stroke="#c040f0" stroke-width="1.3"/>
<circle cx="148.50" cy="84.00" r="2.5" fill="#ffee00" stroke="#c040f0" stroke-width="1.3"/>
<circle cx="174.40" cy="111.25" r="2.5" fill="#ffee00" stroke="#c040f0" stroke-width="1.3"/>
<circle cx="197.50" cy="115.60" r="2.5" fill="#ffee00" stroke="#c040f0" stroke-width="1.3"/>
<circle cx="225.60" cy="137.25" r="2.5" fill="#ffee00" stroke="#c040f0" stroke-width="1.3"/>
<circle cx="282.50" cy="360.50" r="2.5" fill="#ffee00" stroke="#c040f0" stroke-width="1.3"/>
<circle cx="307.00" cy="316.00" r="2.5" fill="#ffee00" stroke="#c040f0" stroke-width="1.3"/>
<polyline points="30.00,67.50 78.50,67.40 101.00,72.00 125.00,79.00 149.00,91.00 172.50,97.50 196.50,102.75 221.25,114.40 257.50,190.00 280.60,133.10 303.50,135.60 326.50,140.60" fill="none" stroke="#1010ff" stroke-width="2.6" stroke-linejoin="round" stroke-linecap="round"/>
<circle cx="30.00" cy="67.50" r="2.5" fill="#ffee00" stroke="#1010ff" stroke-width="1.3"/>
<circle cx="78.50" cy="67.40" r="2.5" fill="#ffee00" stroke="#1010ff" stroke-width="1.3"/>
<circle cx="101.00" cy="72.00" r="2.5" fill="#ffee00" stroke="#1010ff" stroke-width="1.3"/>
<circle cx="125.00" cy="79.00" r="2.5" fill="#ffee00" stroke="#1010ff" stroke-width="1.3"/>
<circle cx="149.00" cy="91.00" r="2.5" fill="#ffee00" stroke="#1010ff" stroke-width="1.3"/>
<circle cx="172.50" cy="97.50" r="2.5" fill="#ffee00" stroke="#1010ff" stroke-width="1.3"/>
<circle cx="196.50" cy="102.75" r="2.5" fill="#ffee00" stroke="#1010ff" stroke-width="1.3"/>
<circle cx="221.25" cy="114.40" r="2.5" fill="#ffee00" stroke="#1010ff" stroke-width="1.3"/>
<circle cx="257.50" cy="190.00" r="2.5" fill="#ffee00" stroke="#1010ff" stroke-width="1.3"/>
<circle cx="280.60" cy="133.10" r="2.5" fill="#ffee00" stroke="#1010ff" stroke-width="1.3"/>
<circle cx="303.50" cy="135.60" r="2.5" fill="#ffee00" stroke="#1010ff" stroke-width="1.3"/>
<circle cx="326.50" cy="140.60" r="2.5" fill="#ffee00" stroke="#1010ff" stroke-width="1.3"/>
<polyline points="30.00,73.80 80.00,78.30 104.50,90.50 129.40,109.40" fill="none" stroke="#ff88aa" stroke-width="2.6" stroke-linejoin="round" stroke-linecap="round"/>
<circle cx="30.00" cy="73.80" r="2.5" fill="#ffee00" stroke="#ff88aa" stroke-width="1.3"/>
<circle cx="80.00" cy="78.30" r="2.5" fill="#ffee00" stroke="#ff88aa" stroke-width="1.3"/>
<circle cx="104.50" cy="90.50" r="2.5" fill="#ffee00" stroke="#ff88aa" stroke-width="1.3"/>
<circle cx="129.40" cy="109.40" r="2.5" fill="#ffee00" stroke="#ff88aa" stroke-width="1.3"/>
<line x1="30.5" y1="25" x2="30.5" y2="366" stroke="#000" stroke-width="1.2"/>
<path d="M27.5,365 L33.5,365 L30.5,377 Z" fill="#000"/>
<line x1="30" y1="25.5" x2="766" y2="25.5" stroke="#000" stroke-width="1.2"/>
<path d="M765,22.5 L765,28.5 L778,25.5 Z" fill="#000"/>
</svg></body></html>
